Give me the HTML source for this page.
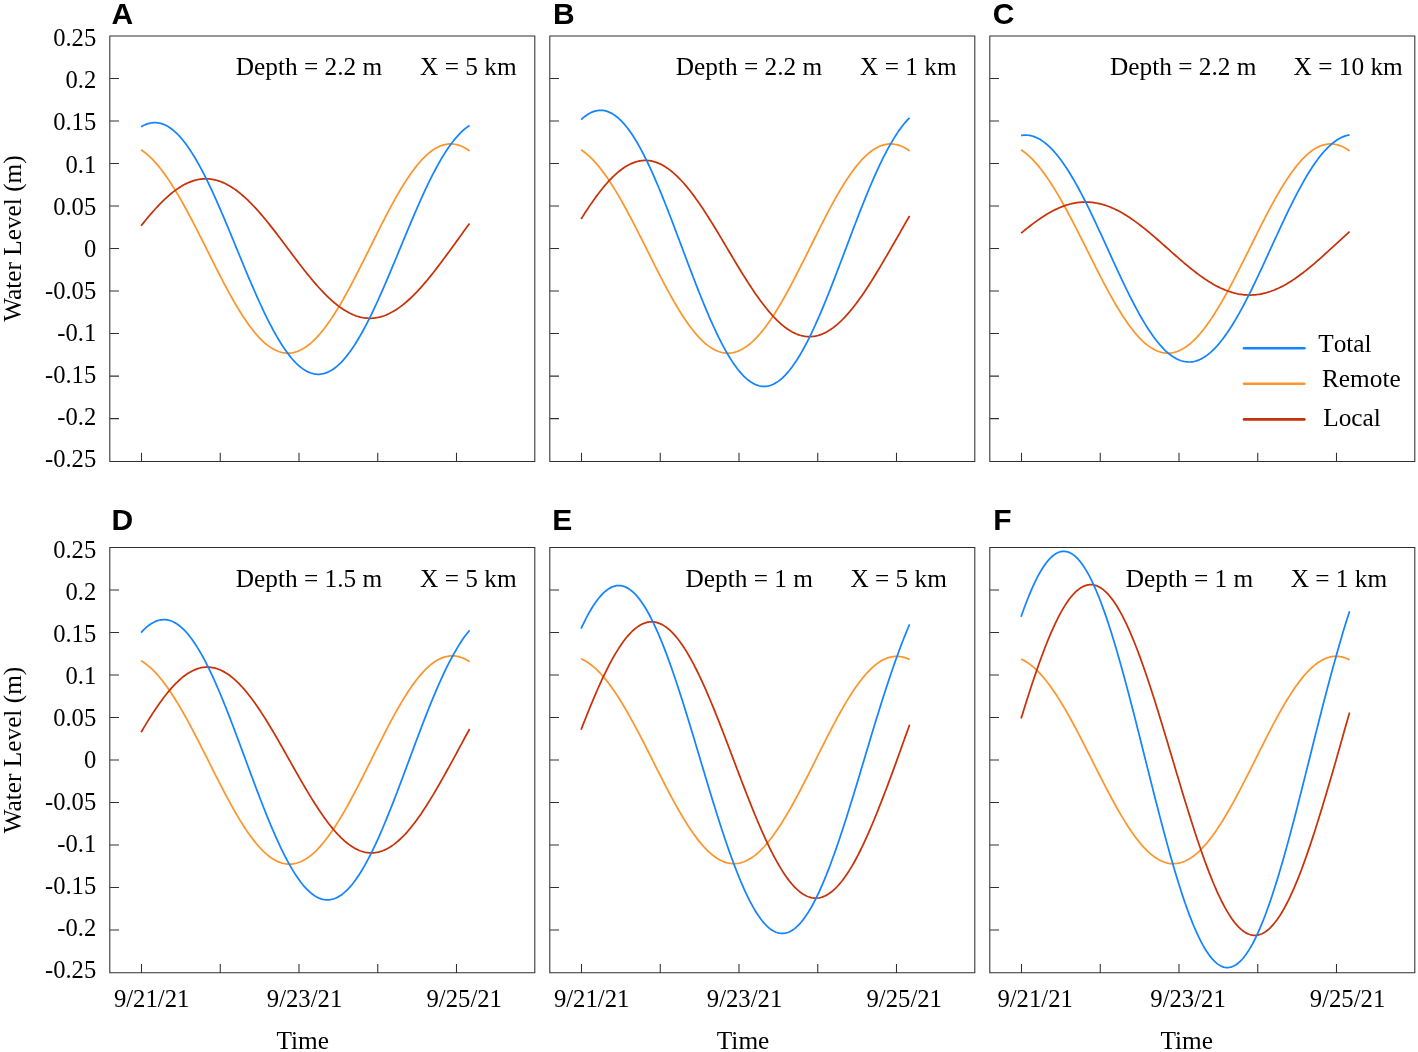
<!DOCTYPE html>
<html><head><meta charset="utf-8"><title>Water level</title>
<style>html,body{margin:0;padding:0;background:#fff;}svg{display:block;will-change:transform;}text{font-family:"Liberation Serif",serif;font-size:25.3px;fill:#000;}.pl{font-family:"Liberation Sans",sans-serif;font-weight:bold;font-size:30px;}</style></head><body>
<svg width="1418" height="1052" viewBox="0 0 1418 1052">
<rect x="0" y="0" width="1418" height="1052" fill="#fff"/>
<g><polyline points="141.1,149.82 142.47,150.74 143.84,151.73 145.21,152.77 146.57,153.89 147.94,155.06 149.31,156.3 150.68,157.59 152.05,158.95 153.42,160.37 154.79,161.85 156.16,163.38 157.53,164.97 158.89,166.62 160.26,168.32 161.63,170.08 163,171.89 164.37,173.75 165.74,175.66 167.11,177.62 168.47,179.63 169.84,181.68 171.21,183.78 172.58,185.93 173.95,188.11 175.32,190.34 176.69,192.61 178.06,194.92 179.43,197.26 180.79,199.64 182.16,202.05 183.53,204.5 184.9,206.98 186.27,209.48 187.64,212.02 189.01,214.58 190.38,217.16 191.74,219.77 193.11,222.4 194.48,225.04 195.85,227.71 197.22,230.39 198.59,233.08 199.96,235.79 201.32,238.51 202.69,241.23 204.06,243.96 205.43,246.7 206.8,249.44 208.17,252.18 209.54,254.92 210.91,257.66 212.27,260.39 213.64,263.12 215.01,265.83 216.38,268.54 217.75,271.23 219.12,273.91 220.49,276.57 221.86,279.22 223.22,281.84 224.59,284.44 225.96,287.02 227.33,289.57 228.7,292.09 230.07,294.59 231.44,297.05 232.81,299.48 234.18,301.87 235.54,304.23 236.91,306.55 238.28,308.83 239.65,311.07 241.02,313.26 242.39,315.41 243.76,317.51 245.12,319.57 246.49,321.58 247.86,323.53 249.23,325.43 250.6,327.28 251.97,329.08 253.34,330.81 254.71,332.49 256.07,334.11 257.44,335.68 258.81,337.18 260.18,338.61 261.55,339.99 262.92,341.3 264.29,342.55 265.66,343.73 267.02,344.84 268.39,345.89 269.76,346.86 271.13,347.77 272.5,348.61 273.87,349.38 275.24,350.08 276.61,350.71 277.98,351.26 279.34,351.75 280.71,352.16 282.08,352.5 283.45,352.77 284.82,352.97 286.19,353.09 287.56,353.14 288.93,353.12 290.29,353.02 291.66,352.85 293.03,352.61 294.4,352.3 295.77,351.92 297.14,351.46 298.51,350.93 299.88,350.34 301.24,349.67 302.61,348.93 303.98,348.12 305.35,347.25 306.72,346.3 308.09,345.29 309.46,344.21 310.82,343.07 312.19,341.86 313.56,340.59 314.93,339.25 316.3,337.85 317.67,336.39 319.04,334.86 320.41,333.28 321.78,331.64 323.14,329.94 324.51,328.19 325.88,326.38 327.25,324.51 328.62,322.6 329.99,320.63 331.36,318.62 332.73,316.55 334.09,314.44 335.46,312.28 336.83,310.08 338.2,307.84 339.57,305.55 340.94,303.22 342.31,300.86 343.68,298.46 345.04,296.03 346.41,293.56 347.78,291.06 349.15,288.54 350.52,285.98 351.89,283.4 353.26,280.79 354.62,278.16 355.99,275.51 357.36,272.84 358.73,270.16 360.1,267.46 361.47,264.74 362.84,262.02 364.21,259.28 365.57,256.54 366.94,253.79 368.31,251.03 369.68,248.28 371.05,245.52 372.42,242.76 373.79,240.01 375.16,237.26 376.53,234.52 377.89,231.78 379.26,229.06 380.63,226.35 382,223.66 383.37,220.98 384.74,218.32 386.11,215.67 387.48,213.06 388.84,210.46 390.21,207.89 391.58,205.35 392.95,202.84 394.32,200.36 395.69,197.92 397.06,195.51 398.43,193.13 399.79,190.8 401.16,188.5 402.53,186.25 403.9,184.04 405.27,181.88 406.64,179.76 408.01,177.69 409.38,175.67 410.74,173.7 412.11,171.78 413.48,169.92 414.85,168.12 416.22,166.37 417.59,164.68 418.96,163.04 420.33,161.47 421.69,159.96 423.06,158.51 424.43,157.13 425.8,155.81 427.17,154.56 428.54,153.37 429.91,152.25 431.28,151.2 432.64,150.22 434.01,149.3 435.38,148.46 436.75,147.69 438.12,146.99 439.49,146.36 440.86,145.8 442.23,145.31 443.59,144.9 444.96,144.56 446.33,144.3 447.7,144.11 449.07,143.99 450.44,143.94 451.81,143.97 453.18,144.07 454.54,144.25 455.91,144.49 457.28,144.81 458.65,145.21 460.02,145.67 461.39,146.21 462.76,146.82 464.12,147.5 465.49,148.25 466.86,149.08 468.23,149.97 469.6,150.93" fill="none" stroke="#FC962C" stroke-width="1.75" stroke-linecap="butt" stroke-linejoin="round"/><polyline points="141.1,225.8 142.47,224.08 143.84,222.38 145.21,220.69 146.57,219.03 147.94,217.38 149.31,215.76 150.68,214.16 152.05,212.58 153.42,211.03 154.79,209.5 156.16,208 157.53,206.53 158.89,205.08 160.26,203.67 161.63,202.29 163,200.94 164.37,199.62 165.74,198.33 167.11,197.08 168.47,195.87 169.84,194.69 171.21,193.54 172.58,192.44 173.95,191.37 175.32,190.35 176.69,189.36 178.06,188.41 179.43,187.51 180.79,186.65 182.16,185.83 183.53,185.05 184.9,184.32 186.27,183.63 187.64,182.98 189.01,182.38 190.38,181.83 191.74,181.32 193.11,180.85 194.48,180.44 195.85,180.07 197.22,179.75 198.59,179.47 199.96,179.24 201.32,179.06 202.69,178.93 204.06,178.85 205.43,178.81 206.8,178.82 208.17,178.88 209.54,178.99 210.91,179.14 212.27,179.34 213.64,179.59 215.01,179.89 216.38,180.23 217.75,180.62 219.12,181.06 220.49,181.55 221.86,182.08 223.22,182.65 224.59,183.27 225.96,183.94 227.33,184.65 228.7,185.4 230.07,186.2 231.44,187.04 232.81,187.92 234.18,188.85 235.54,189.81 236.91,190.82 238.28,191.86 239.65,192.94 241.02,194.07 242.39,195.23 243.76,196.42 245.12,197.65 246.49,198.92 247.86,200.22 249.23,201.55 250.6,202.92 251.97,204.32 253.34,205.75 254.71,207.2 256.07,208.69 257.44,210.2 258.81,211.74 260.18,213.31 261.55,214.89 262.92,216.51 264.29,218.14 265.66,219.79 267.02,221.47 268.39,223.16 269.76,224.87 271.13,226.6 272.5,228.34 273.87,230.1 275.24,231.87 276.61,233.65 277.98,235.44 279.34,237.23 280.71,239.04 282.08,240.85 283.45,242.67 284.82,244.5 286.19,246.32 287.56,248.15 288.93,249.98 290.29,251.8 291.66,253.63 293.03,255.45 294.4,257.26 295.77,259.07 297.14,260.87 298.51,262.67 299.88,264.45 301.24,266.23 302.61,267.99 303.98,269.73 305.35,271.47 306.72,273.19 308.09,274.89 309.46,276.57 310.82,278.23 312.19,279.87 313.56,281.5 314.93,283.1 316.3,284.67 317.67,286.22 319.04,287.75 320.41,289.24 321.78,290.71 323.14,292.15 324.51,293.56 325.88,294.94 327.25,296.29 328.62,297.61 329.99,298.89 331.36,300.13 332.73,301.35 334.09,302.52 335.46,303.66 336.83,304.76 338.2,305.82 339.57,306.84 340.94,307.83 342.31,308.77 343.68,309.67 345.04,310.53 346.41,311.34 347.78,312.11 349.15,312.84 350.52,313.53 351.89,314.17 353.26,314.76 354.62,315.31 355.99,315.82 357.36,316.27 358.73,316.68 360.1,317.05 361.47,317.37 362.84,317.64 364.21,317.86 365.57,318.03 366.94,318.16 368.31,318.24 369.68,318.27 371.05,318.26 372.42,318.19 373.79,318.08 375.16,317.92 376.53,317.71 377.89,317.46 379.26,317.16 380.63,316.81 382,316.41 383.37,315.97 384.74,315.48 386.11,314.94 387.48,314.36 388.84,313.74 390.21,313.07 391.58,312.35 392.95,311.59 394.32,310.79 395.69,309.95 397.06,309.06 398.43,308.13 399.79,307.16 401.16,306.15 402.53,305.1 403.9,304.01 405.27,302.88 406.64,301.72 408.01,300.51 409.38,299.27 410.74,297.99 412.11,296.68 413.48,295.33 414.85,293.95 416.22,292.54 417.59,291.09 418.96,289.62 420.33,288.12 421.69,286.58 423.06,285.02 424.43,283.43 425.8,281.82 427.17,280.19 428.54,278.53 429.91,276.84 431.28,275.14 432.64,273.42 434.01,271.68 435.38,269.92 436.75,268.14 438.12,266.35 439.49,264.55 440.86,262.74 442.23,260.91 443.59,259.07 444.96,257.23 446.33,255.38 447.7,253.52 449.07,251.66 450.44,249.8 451.81,247.93 453.18,246.06 454.54,244.17 455.91,242.27 457.28,240.37 458.65,238.46 460.02,236.55 461.39,234.64 462.76,232.73 464.12,230.84 465.49,228.95 466.86,227.09 468.23,225.23 469.6,223.4" fill="none" stroke="#C8320A" stroke-width="1.75" stroke-linecap="butt" stroke-linejoin="round"/><polyline points="141.1,126.81 142.47,126.02 143.84,125.3 145.21,124.68 146.57,124.13 147.94,123.67 149.31,123.29 150.68,122.99 152.05,122.78 153.42,122.65 154.79,122.61 156.16,122.65 157.53,122.78 158.89,122.99 160.26,123.29 161.63,123.67 163,124.13 164.37,124.69 165.74,125.32 167.11,126.04 168.47,126.84 169.84,127.73 171.21,128.69 172.58,129.74 173.95,130.87 175.32,132.08 176.69,133.38 178.06,134.75 179.43,136.2 180.79,137.72 182.16,139.32 183.53,141 184.9,142.76 186.27,144.58 187.64,146.48 189.01,148.45 190.38,150.49 191.74,152.6 193.11,154.77 194.48,157.01 195.85,159.32 197.22,161.69 198.59,164.11 199.96,166.6 201.32,169.15 202.69,171.75 204.06,174.41 205.43,177.12 206.8,179.88 208.17,182.68 209.54,185.54 210.91,188.44 212.27,191.38 213.64,194.37 215.01,197.39 216.38,200.45 217.75,203.54 219.12,206.66 220.49,209.81 221.86,213 223.22,216.2 224.59,219.43 225.96,222.68 227.33,225.95 228.7,229.23 230.07,232.53 231.44,235.84 232.81,239.16 234.18,242.48 235.54,245.81 236.91,249.14 238.28,252.47 239.65,255.79 241.02,259.12 242.39,262.43 243.76,265.73 245.12,269.02 246.49,272.3 247.86,275.56 249.23,278.8 250.6,282.02 251.97,285.21 253.34,288.38 254.71,291.52 256.07,294.63 257.44,297.7 258.81,300.75 260.18,303.75 261.55,306.71 262.92,309.64 264.29,312.52 265.66,315.35 267.02,318.14 268.39,320.88 269.76,323.57 271.13,326.2 272.5,328.78 273.87,331.31 275.24,333.77 276.61,336.18 277.98,338.52 279.34,340.8 280.71,343.02 282.08,345.17 283.45,347.26 284.82,349.27 286.19,351.21 287.56,353.09 288.93,354.89 290.29,356.61 291.66,358.27 293.03,359.84 294.4,361.34 295.77,362.76 297.14,364.1 298.51,365.37 299.88,366.55 301.24,367.65 302.61,368.66 303.98,369.6 305.35,370.45 306.72,371.22 308.09,371.9 309.46,372.5 310.82,373.01 312.19,373.43 313.56,373.77 314.93,374.03 316.3,374.19 317.67,374.27 319.04,374.27 320.41,374.17 321.78,373.99 323.14,373.73 324.51,373.38 325.88,372.94 327.25,372.41 328.62,371.8 329.99,371.11 331.36,370.33 332.73,369.47 334.09,368.52 335.46,367.49 336.83,366.38 338.2,365.19 339.57,363.92 340.94,362.56 342.31,361.13 343.68,359.62 345.04,358.04 346.41,356.38 347.78,354.64 349.15,352.83 350.52,350.95 351.89,349 353.26,346.98 354.62,344.89 355.99,342.74 357.36,340.52 358.73,338.23 360.1,335.88 361.47,333.48 362.84,331.01 364.21,328.49 365.57,325.91 366.94,323.28 368.31,320.59 369.68,317.86 371.05,315.08 372.42,312.25 373.79,309.38 375.16,306.46 376.53,303.5 377.89,300.5 379.26,297.47 380.63,294.4 382,291.3 383.37,288.17 384.74,285.02 386.11,281.83 387.48,278.63 388.84,275.4 390.21,272.15 391.58,268.89 392.95,265.62 394.32,262.33 395.69,259.03 397.06,255.73 398.43,252.42 399.79,249.11 401.16,245.8 402.53,242.49 403.9,239.19 405.27,235.89 406.64,232.6 408.01,229.32 409.38,226.06 410.74,222.81 412.11,219.58 413.48,216.36 414.85,213.17 416.22,210.01 417.59,206.87 418.96,203.76 420.33,200.68 421.69,197.64 423.06,194.63 424.43,191.66 425.8,188.72 427.17,185.83 428.54,182.99 429.91,180.18 431.28,177.43 432.64,174.72 434.01,172.07 435.38,169.47 436.75,166.92 438.12,164.43 439.49,162 440.86,159.63 442.23,157.32 443.59,155.08 444.96,152.9 446.33,150.78 447.7,148.74 449.07,146.76 450.44,144.85 451.81,143.02 453.18,141.25 454.54,139.54 455.91,137.9 457.28,136.32 458.65,134.8 460.02,133.36 461.39,132 462.76,130.71 464.12,129.5 465.49,128.38 466.86,127.34 468.23,126.38 469.6,125.52" fill="none" stroke="#1485FF" stroke-width="1.75" stroke-linecap="butt" stroke-linejoin="round"/><path d="M109.3 35.94H535.3M109.3 461.5H535.3M109.8 35.94V461.5M534.8 35.94V461.5M109.8 78.46h9.2M109.8 120.98h9.2M109.8 163.5h9.2M109.8 206.02h9.2M109.8 248.54h9.2M109.8 291.06h9.2M109.8 333.58h9.2M109.8 376.1h9.2M109.8 418.62h9.2M141.5 461.5v-8.8M220.25 461.5v-8.8M299 461.5v-8.8M377.75 461.5v-8.8M456.5 461.5v-8.8" stroke="#303030" stroke-width="1.05" fill="none"/><text class="pl" x="111.5" y="24.3">A</text><text x="235.8" y="75.14">Depth = 2.2 m</text><text x="420.1" y="75.14">X = 5 km</text><text x="96.2" y="46.44" text-anchor="end" style="font-size:24.6px">0.25</text><text x="96.2" y="88.46" text-anchor="end" style="font-size:24.6px">0.2</text><text x="96.2" y="130.48" text-anchor="end" style="font-size:24.6px">0.15</text><text x="96.2" y="172.5" text-anchor="end" style="font-size:24.6px">0.1</text><text x="96.2" y="214.52" text-anchor="end" style="font-size:24.6px">0.05</text><text x="96.2" y="256.54" text-anchor="end" style="font-size:24.6px">0</text><text x="96.2" y="298.56" text-anchor="end" style="font-size:24.6px">-0.05</text><text x="96.2" y="340.58" text-anchor="end" style="font-size:24.6px">-0.1</text><text x="96.2" y="382.6" text-anchor="end" style="font-size:24.6px">-0.15</text><text x="96.2" y="424.62" text-anchor="end" style="font-size:24.6px">-0.2</text><text x="96.2" y="466.64" text-anchor="end" style="font-size:24.6px">-0.25</text><text transform="translate(20.5 238.54) rotate(-90)" text-anchor="middle">Water Level (m)</text></g>
<g><polyline points="581.1,149.82 582.47,150.74 583.84,151.73 585.21,152.77 586.57,153.89 587.94,155.06 589.31,156.3 590.68,157.59 592.05,158.95 593.42,160.37 594.79,161.85 596.16,163.38 597.52,164.97 598.89,166.62 600.26,168.32 601.63,170.08 603,171.89 604.37,173.75 605.74,175.66 607.11,177.62 608.47,179.63 609.84,181.68 611.21,183.78 612.58,185.93 613.95,188.11 615.32,190.34 616.69,192.61 618.06,194.92 619.42,197.26 620.79,199.64 622.16,202.05 623.53,204.5 624.9,206.98 626.27,209.48 627.64,212.02 629.01,214.58 630.38,217.16 631.74,219.77 633.11,222.4 634.48,225.04 635.85,227.71 637.22,230.39 638.59,233.08 639.96,235.79 641.32,238.51 642.69,241.23 644.06,243.96 645.43,246.7 646.8,249.44 648.17,252.18 649.54,254.92 650.91,257.66 652.27,260.39 653.64,263.12 655.01,265.83 656.38,268.54 657.75,271.23 659.12,273.91 660.49,276.57 661.86,279.22 663.22,281.84 664.59,284.44 665.96,287.02 667.33,289.57 668.7,292.09 670.07,294.59 671.44,297.05 672.81,299.48 674.17,301.87 675.54,304.23 676.91,306.55 678.28,308.83 679.65,311.07 681.02,313.26 682.39,315.41 683.76,317.51 685.12,319.57 686.49,321.58 687.86,323.53 689.23,325.43 690.6,327.28 691.97,329.08 693.34,330.81 694.71,332.49 696.07,334.11 697.44,335.68 698.81,337.18 700.18,338.61 701.55,339.99 702.92,341.3 704.29,342.55 705.66,343.73 707.02,344.84 708.39,345.89 709.76,346.86 711.13,347.77 712.5,348.61 713.87,349.38 715.24,350.08 716.61,350.71 717.97,351.26 719.34,351.75 720.71,352.16 722.08,352.5 723.45,352.77 724.82,352.97 726.19,353.09 727.56,353.14 728.92,353.12 730.29,353.02 731.66,352.85 733.03,352.61 734.4,352.3 735.77,351.92 737.14,351.46 738.51,350.93 739.88,350.34 741.24,349.67 742.61,348.93 743.98,348.12 745.35,347.25 746.72,346.3 748.09,345.29 749.46,344.21 750.82,343.07 752.19,341.86 753.56,340.59 754.93,339.25 756.3,337.85 757.67,336.39 759.04,334.86 760.41,333.28 761.77,331.64 763.14,329.94 764.51,328.19 765.88,326.38 767.25,324.51 768.62,322.6 769.99,320.63 771.36,318.62 772.72,316.55 774.09,314.44 775.46,312.28 776.83,310.08 778.2,307.84 779.57,305.55 780.94,303.22 782.31,300.86 783.67,298.46 785.04,296.03 786.41,293.56 787.78,291.06 789.15,288.54 790.52,285.98 791.89,283.4 793.26,280.79 794.62,278.16 795.99,275.51 797.36,272.84 798.73,270.16 800.1,267.46 801.47,264.74 802.84,262.02 804.21,259.28 805.57,256.54 806.94,253.79 808.31,251.03 809.68,248.28 811.05,245.52 812.42,242.76 813.79,240.01 815.16,237.26 816.52,234.52 817.89,231.78 819.26,229.06 820.63,226.35 822,223.66 823.37,220.98 824.74,218.32 826.11,215.67 827.47,213.06 828.84,210.46 830.21,207.89 831.58,205.35 832.95,202.84 834.32,200.36 835.69,197.92 837.06,195.51 838.42,193.13 839.79,190.8 841.16,188.5 842.53,186.25 843.9,184.04 845.27,181.88 846.64,179.76 848.01,177.69 849.38,175.67 850.74,173.7 852.11,171.78 853.48,169.92 854.85,168.12 856.22,166.37 857.59,164.68 858.96,163.04 860.33,161.47 861.69,159.96 863.06,158.51 864.43,157.13 865.8,155.81 867.17,154.56 868.54,153.37 869.91,152.25 871.27,151.2 872.64,150.22 874.01,149.3 875.38,148.46 876.75,147.69 878.12,146.99 879.49,146.36 880.86,145.8 882.22,145.31 883.59,144.9 884.96,144.56 886.33,144.3 887.7,144.11 889.07,143.99 890.44,143.94 891.81,143.97 893.17,144.07 894.54,144.25 895.91,144.49 897.28,144.81 898.65,145.21 900.02,145.67 901.39,146.21 902.76,146.82 904.12,147.5 905.49,148.25 906.86,149.08 908.23,149.97 909.6,150.93" fill="none" stroke="#FC962C" stroke-width="1.75" stroke-linecap="butt" stroke-linejoin="round"/><polyline points="581.1,219.02 582.47,216.85 583.84,214.71 585.21,212.59 586.57,210.49 587.94,208.42 589.31,206.38 590.68,204.37 592.05,202.39 593.42,200.44 594.79,198.52 596.16,196.64 597.52,194.79 598.89,192.98 600.26,191.21 601.63,189.47 603,187.78 604.37,186.13 605.74,184.52 607.11,182.96 608.47,181.44 609.84,179.97 611.21,178.54 612.58,177.16 613.95,175.84 615.32,174.56 616.69,173.33 618.06,172.15 619.42,171.03 620.79,169.96 622.16,168.94 623.53,167.98 624.9,167.07 626.27,166.22 627.64,165.43 629.01,164.69 630.38,164.01 631.74,163.39 633.11,162.83 634.48,162.32 635.85,161.88 637.22,161.49 638.59,161.17 639.96,160.9 641.32,160.69 642.69,160.55 644.06,160.46 645.43,160.44 646.8,160.47 648.17,160.57 649.54,160.73 650.91,160.95 652.27,161.22 653.64,161.56 655.01,161.96 656.38,162.41 657.75,162.93 659.12,163.5 660.49,164.14 661.86,164.83 663.22,165.58 664.59,166.38 665.96,167.24 667.33,168.16 668.7,169.13 670.07,170.16 671.44,171.24 672.81,172.37 674.17,173.56 675.54,174.8 676.91,176.09 678.28,177.42 679.65,178.81 681.02,180.25 682.39,181.73 683.76,183.26 685.12,184.83 686.49,186.44 687.86,188.1 689.23,189.8 690.6,191.54 691.97,193.32 693.34,195.14 694.71,197 696.07,198.89 697.44,200.81 698.81,202.77 700.18,204.75 701.55,206.77 702.92,208.82 704.29,210.89 705.66,212.99 707.02,215.12 708.39,217.26 709.76,219.43 711.13,221.62 712.5,223.83 713.87,226.05 715.24,228.29 716.61,230.55 717.97,232.81 719.34,235.09 720.71,237.37 722.08,239.67 723.45,241.97 724.82,244.27 726.19,246.58 727.56,248.89 728.92,251.2 730.29,253.5 731.66,255.81 733.03,258.1 734.4,260.39 735.77,262.68 737.14,264.95 738.51,267.21 739.88,269.46 741.24,271.7 742.61,273.92 743.98,276.12 745.35,278.3 746.72,280.46 748.09,282.61 749.46,284.72 750.82,286.81 752.19,288.88 753.56,290.92 754.93,292.93 756.3,294.91 757.67,296.85 759.04,298.77 760.41,300.65 761.77,302.49 763.14,304.3 764.51,306.06 765.88,307.79 767.25,309.48 768.62,311.13 769.99,312.73 771.36,314.29 772.72,315.8 774.09,317.27 775.46,318.69 776.83,320.06 778.2,321.39 779.57,322.66 780.94,323.88 782.31,325.05 783.67,326.17 785.04,327.24 786.41,328.25 787.78,329.2 789.15,330.1 790.52,330.95 791.89,331.74 793.26,332.47 794.62,333.14 795.99,333.76 797.36,334.31 798.73,334.81 800.1,335.25 801.47,335.63 802.84,335.95 804.21,336.21 805.57,336.41 806.94,336.54 808.31,336.62 809.68,336.64 811.05,336.6 812.42,336.49 813.79,336.33 815.16,336.11 816.52,335.82 817.89,335.48 819.26,335.08 820.63,334.61 822,334.09 823.37,333.51 824.74,332.87 826.11,332.17 827.47,331.42 828.84,330.61 830.21,329.74 831.58,328.82 832.95,327.84 834.32,326.81 835.69,325.72 837.06,324.58 838.42,323.39 839.79,322.14 841.16,320.85 842.53,319.5 843.9,318.11 845.27,316.67 846.64,315.17 848.01,313.64 849.38,312.05 850.74,310.42 852.11,308.75 853.48,307.03 854.85,305.27 856.22,303.47 857.59,301.63 858.96,299.76 860.33,297.84 861.69,295.89 863.06,293.91 864.43,291.89 865.8,289.85 867.17,287.77 868.54,285.66 869.91,283.53 871.27,281.37 872.64,279.18 874.01,276.97 875.38,274.75 876.75,272.5 878.12,270.23 879.49,267.95 880.86,265.65 882.22,263.34 883.59,261.02 884.96,258.68 886.33,256.34 887.7,253.99 889.07,251.64 890.44,249.28 891.81,246.93 893.17,244.56 894.54,242.18 895.91,239.78 897.28,237.37 898.65,234.97 900.02,232.56 901.39,230.15 902.76,227.75 904.12,225.36 905.49,222.99 906.86,220.63 908.23,218.3 909.6,216" fill="none" stroke="#C8320A" stroke-width="1.75" stroke-linecap="butt" stroke-linejoin="round"/><polyline points="581.1,119.68 582.47,118.43 583.84,117.26 585.21,116.18 586.57,115.19 587.94,114.29 589.31,113.48 590.68,112.76 592.05,112.14 593.42,111.6 594.79,111.16 596.16,110.8 597.52,110.55 598.89,110.38 600.26,110.31 601.63,110.33 603,110.45 604.37,110.65 605.74,110.96 607.11,111.35 608.47,111.84 609.84,112.43 611.21,113.1 612.58,113.87 613.95,114.73 615.32,115.69 616.69,116.73 618.06,117.87 619.42,119.09 620.79,120.41 622.16,121.81 623.53,123.3 624.9,124.88 626.27,126.54 627.64,128.29 629.01,130.12 630.38,132.03 631.74,134.02 633.11,136.1 634.48,138.25 635.85,140.48 637.22,142.78 638.59,145.16 639.96,147.61 641.32,150.14 642.69,152.73 644.06,155.39 645.43,158.11 646.8,160.9 648.17,163.75 649.54,166.66 650.91,169.63 652.27,172.65 653.64,175.73 655.01,178.86 656.38,182.04 657.75,185.26 659.12,188.53 660.49,191.84 661.86,195.19 663.22,198.58 664.59,202 665.96,205.45 667.33,208.94 668.7,212.45 670.07,215.99 671.44,219.55 672.81,223.13 674.17,226.73 675.54,230.34 676.91,233.97 678.28,237.6 679.65,241.25 681.02,244.89 682.39,248.54 683.76,252.19 685.12,255.84 686.49,259.48 687.86,263.11 689.23,266.73 690.6,270.34 691.97,273.93 693.34,277.5 694.71,281.05 696.07,284.58 697.44,288.08 698.81,291.56 700.18,295 701.55,298.41 702.92,301.79 704.29,305.13 705.66,308.42 707.02,311.68 708.39,314.89 709.76,318.05 711.13,321.16 712.5,324.23 713.87,327.24 715.24,330.19 716.61,333.09 717.97,335.92 719.34,338.7 720.71,341.41 722.08,344.06 723.45,346.64 724.82,349.15 726.19,351.6 727.56,353.97 728.92,356.27 730.29,358.49 731.66,360.64 733.03,362.71 734.4,364.7 735.77,366.61 737.14,368.44 738.51,370.18 739.88,371.84 741.24,373.42 742.61,374.91 743.98,376.31 745.35,377.63 746.72,378.85 748.09,379.99 749.46,381.03 750.82,381.99 752.19,382.85 753.56,383.62 754.93,384.3 756.3,384.88 757.67,385.37 759.04,385.76 760.41,386.06 761.77,386.27 763.14,386.38 764.51,386.39 765.88,386.31 767.25,386.14 768.62,385.87 769.99,385.51 771.36,385.05 772.72,384.5 774.09,383.85 775.46,383.11 776.83,382.28 778.2,381.36 779.57,380.34 780.94,379.23 782.31,378.04 783.67,376.75 785.04,375.38 786.41,373.92 787.78,372.37 789.15,370.73 790.52,369.01 791.89,367.21 793.26,365.33 794.62,363.37 795.99,361.32 797.36,359.2 798.73,357 800.1,354.73 801.47,352.39 802.84,349.97 804.21,347.48 805.57,344.92 806.94,342.3 808.31,339.61 809.68,336.86 811.05,334.05 812.42,331.18 813.79,328.25 815.16,325.26 816.52,322.22 817.89,319.13 819.26,315.99 820.63,312.8 822,309.57 823.37,306.29 824.74,302.97 826.11,299.62 827.47,296.23 828.84,292.81 830.21,289.36 831.58,285.88 832.95,282.37 834.32,278.84 835.69,275.29 837.06,271.72 838.42,268.14 839.79,264.54 841.16,260.94 842.53,257.32 843.9,253.7 845.27,250.07 846.64,246.45 848.01,242.82 849.38,239.2 850.74,235.58 852.11,231.98 853.48,228.38 854.85,224.8 856.22,221.23 857.59,217.68 858.96,214.16 860.33,210.65 861.69,207.18 863.06,203.73 864.43,200.31 865.8,196.93 867.17,193.58 868.54,190.26 869.91,186.99 871.27,183.77 872.64,180.58 874.01,177.44 875.38,174.36 876.75,171.32 878.12,168.34 879.49,165.41 880.86,162.54 882.22,159.73 883.59,156.98 884.96,154.29 886.33,151.67 887.7,149.12 889.07,146.63 890.44,144.22 891.81,141.87 893.17,139.59 894.54,137.37 895.91,135.21 897.28,133.12 898.65,131.09 900.02,129.14 901.39,127.26 902.76,125.46 904.12,123.74 905.49,122.11 906.86,120.57 908.23,119.12 909.6,117.77" fill="none" stroke="#1485FF" stroke-width="1.75" stroke-linecap="butt" stroke-linejoin="round"/><path d="M549.3 35.94H975.3M549.3 461.5H975.3M549.8 35.94V461.5M974.8 35.94V461.5M549.8 78.46h9.2M549.8 120.98h9.2M549.8 163.5h9.2M549.8 206.02h9.2M549.8 248.54h9.2M549.8 291.06h9.2M549.8 333.58h9.2M549.8 376.1h9.2M549.8 418.62h9.2M581.5 461.5v-8.8M660.25 461.5v-8.8M739 461.5v-8.8M817.75 461.5v-8.8M896.5 461.5v-8.8" stroke="#303030" stroke-width="1.05" fill="none"/><text class="pl" x="553" y="24.3">B</text><text x="675.8" y="75.14">Depth = 2.2 m</text><text x="860.1" y="75.14">X = 1 km</text></g>
<g><polyline points="1021.1,149.82 1022.47,150.74 1023.84,151.73 1025.21,152.77 1026.58,153.89 1027.94,155.06 1029.31,156.3 1030.68,157.59 1032.05,158.95 1033.42,160.37 1034.79,161.85 1036.16,163.38 1037.52,164.97 1038.89,166.62 1040.26,168.32 1041.63,170.08 1043,171.89 1044.37,173.75 1045.74,175.66 1047.11,177.62 1048.47,179.63 1049.84,181.68 1051.21,183.78 1052.58,185.93 1053.95,188.11 1055.32,190.34 1056.69,192.61 1058.06,194.92 1059.42,197.26 1060.79,199.64 1062.16,202.05 1063.53,204.5 1064.9,206.98 1066.27,209.48 1067.64,212.02 1069.01,214.58 1070.38,217.16 1071.74,219.77 1073.11,222.4 1074.48,225.04 1075.85,227.71 1077.22,230.39 1078.59,233.08 1079.96,235.79 1081.33,238.51 1082.69,241.23 1084.06,243.96 1085.43,246.7 1086.8,249.44 1088.17,252.18 1089.54,254.92 1090.91,257.66 1092.27,260.39 1093.64,263.12 1095.01,265.83 1096.38,268.54 1097.75,271.23 1099.12,273.91 1100.49,276.57 1101.86,279.22 1103.22,281.84 1104.59,284.44 1105.96,287.02 1107.33,289.57 1108.7,292.09 1110.07,294.59 1111.44,297.05 1112.81,299.48 1114.17,301.87 1115.54,304.23 1116.91,306.55 1118.28,308.83 1119.65,311.07 1121.02,313.26 1122.39,315.41 1123.76,317.51 1125.12,319.57 1126.49,321.58 1127.86,323.53 1129.23,325.43 1130.6,327.28 1131.97,329.08 1133.34,330.81 1134.71,332.49 1136.08,334.11 1137.44,335.68 1138.81,337.18 1140.18,338.61 1141.55,339.99 1142.92,341.3 1144.29,342.55 1145.66,343.73 1147.02,344.84 1148.39,345.89 1149.76,346.86 1151.13,347.77 1152.5,348.61 1153.87,349.38 1155.24,350.08 1156.61,350.71 1157.97,351.26 1159.34,351.75 1160.71,352.16 1162.08,352.5 1163.45,352.77 1164.82,352.97 1166.19,353.09 1167.56,353.14 1168.92,353.12 1170.29,353.02 1171.66,352.85 1173.03,352.61 1174.4,352.3 1175.77,351.92 1177.14,351.46 1178.51,350.93 1179.88,350.34 1181.24,349.67 1182.61,348.93 1183.98,348.12 1185.35,347.25 1186.72,346.3 1188.09,345.29 1189.46,344.21 1190.83,343.07 1192.19,341.86 1193.56,340.59 1194.93,339.25 1196.3,337.85 1197.67,336.39 1199.04,334.86 1200.41,333.28 1201.78,331.64 1203.14,329.94 1204.51,328.19 1205.88,326.38 1207.25,324.51 1208.62,322.6 1209.99,320.63 1211.36,318.62 1212.72,316.55 1214.09,314.44 1215.46,312.28 1216.83,310.08 1218.2,307.84 1219.57,305.55 1220.94,303.22 1222.31,300.86 1223.67,298.46 1225.04,296.03 1226.41,293.56 1227.78,291.06 1229.15,288.54 1230.52,285.98 1231.89,283.4 1233.26,280.79 1234.62,278.16 1235.99,275.51 1237.36,272.84 1238.73,270.16 1240.1,267.46 1241.47,264.74 1242.84,262.02 1244.21,259.28 1245.58,256.54 1246.94,253.79 1248.31,251.03 1249.68,248.28 1251.05,245.52 1252.42,242.76 1253.79,240.01 1255.16,237.26 1256.53,234.52 1257.89,231.78 1259.26,229.06 1260.63,226.35 1262,223.66 1263.37,220.98 1264.74,218.32 1266.11,215.67 1267.47,213.06 1268.84,210.46 1270.21,207.89 1271.58,205.35 1272.95,202.84 1274.32,200.36 1275.69,197.92 1277.06,195.51 1278.42,193.13 1279.79,190.8 1281.16,188.5 1282.53,186.25 1283.9,184.04 1285.27,181.88 1286.64,179.76 1288.01,177.69 1289.38,175.67 1290.74,173.7 1292.11,171.78 1293.48,169.92 1294.85,168.12 1296.22,166.37 1297.59,164.68 1298.96,163.04 1300.33,161.47 1301.69,159.96 1303.06,158.51 1304.43,157.13 1305.8,155.81 1307.17,154.56 1308.54,153.37 1309.91,152.25 1311.28,151.2 1312.64,150.22 1314.01,149.3 1315.38,148.46 1316.75,147.69 1318.12,146.99 1319.49,146.36 1320.86,145.8 1322.22,145.31 1323.59,144.9 1324.96,144.56 1326.33,144.3 1327.7,144.11 1329.07,143.99 1330.44,143.94 1331.81,143.97 1333.17,144.07 1334.54,144.25 1335.91,144.49 1337.28,144.81 1338.65,145.21 1340.02,145.67 1341.39,146.21 1342.76,146.82 1344.12,147.5 1345.49,148.25 1346.86,149.08 1348.23,149.97 1349.6,150.93" fill="none" stroke="#FC962C" stroke-width="1.75" stroke-linecap="butt" stroke-linejoin="round"/><polyline points="1021.1,233.2 1022.47,232.06 1023.84,230.92 1025.21,229.8 1026.58,228.69 1027.94,227.6 1029.31,226.52 1030.68,225.45 1032.05,224.4 1033.42,223.37 1034.79,222.35 1036.16,221.35 1037.52,220.37 1038.89,219.41 1040.26,218.47 1041.63,217.55 1043,216.65 1044.37,215.78 1045.74,214.92 1047.11,214.09 1048.47,213.29 1049.84,212.5 1051.21,211.74 1052.58,211.01 1053.95,210.3 1055.32,209.62 1056.69,208.97 1058.06,208.34 1059.42,207.74 1060.79,207.17 1062.16,206.63 1063.53,206.11 1064.9,205.63 1066.27,205.17 1067.64,204.75 1069.01,204.35 1070.38,203.99 1071.74,203.65 1073.11,203.35 1074.48,203.07 1075.85,202.83 1077.22,202.62 1078.59,202.44 1079.96,202.29 1081.33,202.18 1082.69,202.1 1084.06,202.04 1085.43,202.02 1086.8,202.04 1088.17,202.08 1089.54,202.16 1090.91,202.26 1092.27,202.4 1093.64,202.57 1095.01,202.78 1096.38,203.01 1097.75,203.28 1099.12,203.57 1100.49,203.9 1101.86,204.26 1103.22,204.65 1104.59,205.06 1105.96,205.51 1107.33,205.99 1108.7,206.5 1110.07,207.03 1111.44,207.6 1112.81,208.19 1114.17,208.81 1115.54,209.46 1116.91,210.13 1118.28,210.83 1119.65,211.56 1121.02,212.31 1122.39,213.09 1123.76,213.89 1125.12,214.72 1126.49,215.57 1127.86,216.44 1129.23,217.33 1130.6,218.24 1131.97,219.18 1133.34,220.13 1134.71,221.11 1136.08,222.1 1137.44,223.11 1138.81,224.14 1140.18,225.19 1141.55,226.25 1142.92,227.33 1144.29,228.42 1145.66,229.53 1147.02,230.65 1148.39,231.78 1149.76,232.92 1151.13,234.07 1152.5,235.24 1153.87,236.41 1155.24,237.59 1156.61,238.78 1157.97,239.97 1159.34,241.17 1160.71,242.38 1162.08,243.59 1163.45,244.8 1164.82,246.02 1166.19,247.24 1167.56,248.46 1168.92,249.68 1170.29,250.89 1171.66,252.11 1173.03,253.32 1174.4,254.53 1175.77,255.74 1177.14,256.94 1178.51,258.14 1179.88,259.33 1181.24,260.51 1182.61,261.68 1183.98,262.85 1185.35,264 1186.72,265.15 1188.09,266.28 1189.46,267.4 1190.83,268.51 1192.19,269.6 1193.56,270.68 1194.93,271.75 1196.3,272.79 1197.67,273.83 1199.04,274.84 1200.41,275.84 1201.78,276.81 1203.14,277.77 1204.51,278.71 1205.88,279.63 1207.25,280.52 1208.62,281.4 1209.99,282.25 1211.36,283.08 1212.72,283.88 1214.09,284.66 1215.46,285.42 1216.83,286.15 1218.2,286.85 1219.57,287.53 1220.94,288.18 1222.31,288.81 1223.67,289.4 1225.04,289.97 1226.41,290.51 1227.78,291.02 1229.15,291.5 1230.52,291.96 1231.89,292.38 1233.26,292.77 1234.62,293.13 1235.99,293.46 1237.36,293.77 1238.73,294.04 1240.1,294.27 1241.47,294.48 1242.84,294.66 1244.21,294.8 1245.58,294.91 1246.94,294.99 1248.31,295.04 1249.68,295.06 1251.05,295.04 1252.42,294.99 1253.79,294.91 1255.16,294.8 1256.53,294.66 1257.89,294.49 1259.26,294.28 1260.63,294.04 1262,293.77 1263.37,293.47 1264.74,293.14 1266.11,292.78 1267.47,292.39 1268.84,291.97 1270.21,291.52 1271.58,291.03 1272.95,290.52 1274.32,289.99 1275.69,289.42 1277.06,288.82 1278.42,288.2 1279.79,287.55 1281.16,286.87 1282.53,286.17 1283.9,285.44 1285.27,284.68 1286.64,283.9 1288.01,283.09 1289.38,282.26 1290.74,281.4 1292.11,280.52 1293.48,279.62 1294.85,278.7 1296.22,277.75 1297.59,276.79 1298.96,275.8 1300.33,274.79 1301.69,273.77 1303.06,272.72 1304.43,271.66 1305.8,270.59 1307.17,269.49 1308.54,268.38 1309.91,267.26 1311.28,266.12 1312.64,264.97 1314.01,263.81 1315.38,262.63 1316.75,261.45 1318.12,260.25 1319.49,259.05 1320.86,257.84 1322.22,256.62 1323.59,255.39 1324.96,254.16 1326.33,252.93 1327.7,251.69 1329.07,250.44 1330.44,249.2 1331.81,247.96 1333.17,246.71 1334.54,245.45 1335.91,244.18 1337.28,242.91 1338.65,241.64 1340.02,240.36 1341.39,239.09 1342.76,237.82 1344.12,236.56 1345.49,235.3 1346.86,234.06 1348.23,232.83 1349.6,231.61" fill="none" stroke="#C8320A" stroke-width="1.75" stroke-linecap="butt" stroke-linejoin="round"/><polyline points="1021.1,135.46 1022.47,135.26 1023.84,135.15 1025.21,135.1 1026.58,135.14 1027.94,135.25 1029.31,135.43 1030.68,135.69 1032.05,136.02 1033.42,136.44 1034.79,136.92 1036.16,137.48 1037.52,138.12 1038.89,138.83 1040.26,139.61 1041.63,140.47 1043,141.4 1044.37,142.4 1045.74,143.48 1047.11,144.62 1048.47,145.84 1049.84,147.13 1051.21,148.48 1052.58,149.91 1053.95,151.4 1055.32,152.96 1056.69,154.58 1058.06,156.27 1059.42,158.02 1060.79,159.84 1062.16,161.71 1063.53,163.65 1064.9,165.64 1066.27,167.7 1067.64,169.8 1069.01,171.97 1070.38,174.19 1071.74,176.46 1073.11,178.78 1074.48,181.15 1075.85,183.56 1077.22,186.03 1078.59,188.54 1079.96,191.09 1081.33,193.68 1082.69,196.31 1084.06,198.98 1085.43,201.68 1086.8,204.42 1088.17,207.19 1089.54,209.99 1090.91,212.82 1092.27,215.67 1093.64,218.55 1095.01,221.45 1096.38,224.37 1097.75,227.31 1099.12,230.26 1100.49,233.22 1101.86,236.2 1103.22,239.19 1104.59,242.18 1105.96,245.18 1107.33,248.18 1108.7,251.18 1110.07,254.19 1111.44,257.18 1112.81,260.17 1114.17,263.16 1115.54,266.13 1116.91,269.09 1118.28,272.04 1119.65,274.97 1121.02,277.88 1122.39,280.77 1123.76,283.64 1125.12,286.49 1126.49,289.3 1127.86,292.09 1129.23,294.85 1130.6,297.57 1131.97,300.26 1133.34,302.92 1134.71,305.53 1136.08,308.11 1137.44,310.64 1138.81,313.13 1140.18,315.58 1141.55,317.97 1142.92,320.32 1144.29,322.62 1145.66,324.86 1147.02,327.05 1148.39,329.19 1149.76,331.27 1151.13,333.29 1152.5,335.25 1153.87,337.15 1155.24,338.99 1156.61,340.76 1157.97,342.47 1159.34,344.12 1160.71,345.7 1162.08,347.21 1163.45,348.65 1164.82,350.02 1166.19,351.32 1167.56,352.55 1168.92,353.71 1170.29,354.79 1171.66,355.8 1173.03,356.74 1174.4,357.6 1175.77,358.38 1177.14,359.09 1178.51,359.73 1179.88,360.28 1181.24,360.76 1182.61,361.16 1183.98,361.49 1185.35,361.73 1186.72,361.9 1188.09,361.99 1189.46,362 1190.83,361.94 1192.19,361.79 1193.56,361.57 1194.93,361.27 1196.3,360.89 1197.67,360.43 1199.04,359.9 1200.41,359.29 1201.78,358.6 1203.14,357.84 1204.51,357 1205.88,356.09 1207.25,355.1 1208.62,354.04 1209.99,352.91 1211.36,351.7 1212.72,350.42 1214.09,349.08 1215.46,347.66 1216.83,346.18 1218.2,344.63 1219.57,343.01 1220.94,341.32 1222.31,339.58 1223.67,337.77 1225.04,335.89 1226.41,333.96 1227.78,331.97 1229.15,329.92 1230.52,327.82 1231.89,325.66 1233.26,323.44 1234.62,321.18 1235.99,318.86 1237.36,316.5 1238.73,314.08 1240.1,311.63 1241.47,309.12 1242.84,306.58 1244.21,304 1245.58,301.38 1246.94,298.72 1248.31,296.02 1249.68,293.3 1251.05,290.54 1252.42,287.75 1253.79,284.93 1255.16,282.09 1256.53,279.22 1257.89,276.33 1259.26,273.42 1260.63,270.49 1262,267.55 1263.37,264.6 1264.74,261.63 1266.11,258.65 1267.47,255.67 1268.84,252.68 1270.21,249.68 1271.58,246.69 1272.95,243.7 1274.32,240.71 1275.69,237.72 1277.06,234.75 1278.42,231.78 1279.79,228.83 1281.16,225.89 1282.53,222.96 1283.9,220.06 1285.27,217.17 1286.64,214.31 1288.01,211.47 1289.38,208.65 1290.74,205.86 1292.11,203.11 1293.48,200.38 1294.85,197.69 1296.22,195.03 1297.59,192.42 1298.96,189.84 1300.33,187.3 1301.69,184.8 1303.06,182.35 1304.43,179.95 1305.8,177.59 1307.17,175.28 1308.54,173.03 1309.91,170.83 1311.28,168.68 1312.64,166.59 1314.01,164.55 1315.38,162.57 1316.75,160.66 1318.12,158.8 1319.49,157.01 1320.86,155.28 1322.22,153.62 1323.59,152.02 1324.96,150.5 1326.33,149.03 1327.7,147.64 1329.07,146.32 1330.44,145.07 1331.81,143.9 1333.17,142.79 1334.54,141.74 1335.91,140.76 1337.28,139.85 1338.65,139.01 1340.02,138.24 1341.39,137.54 1342.76,136.91 1344.12,136.37 1345.49,135.9 1346.86,135.51 1348.23,135.2 1349.6,134.98" fill="none" stroke="#1485FF" stroke-width="1.75" stroke-linecap="butt" stroke-linejoin="round"/><path d="M989.3 35.94H1415.3M989.3 461.5H1415.3M989.8 35.94V461.5M1414.8 35.94V461.5M989.8 78.46h9.2M989.8 120.98h9.2M989.8 163.5h9.2M989.8 206.02h9.2M989.8 248.54h9.2M989.8 291.06h9.2M989.8 333.58h9.2M989.8 376.1h9.2M989.8 418.62h9.2M1021.5 461.5v-8.8M1100.25 461.5v-8.8M1179 461.5v-8.8M1257.75 461.5v-8.8M1336.5 461.5v-8.8" stroke="#303030" stroke-width="1.05" fill="none"/><text class="pl" x="992.7" y="24.3">C</text><text x="1110" y="75.14">Depth = 2.2 m</text><text x="1293.6" y="75.14">X = 10 km</text></g>
<g><polyline points="141.1,660.72 142.47,661.56 143.84,662.46 145.21,663.43 146.57,664.46 147.94,665.56 149.31,666.71 150.68,667.93 152.05,669.21 153.42,670.56 154.79,671.96 156.16,673.42 157.53,674.93 158.89,676.51 160.26,678.14 161.63,679.82 163,681.56 164.37,683.35 165.74,685.2 167.11,687.09 168.47,689.03 169.84,691.02 171.21,693.06 172.58,695.15 173.95,697.27 175.32,699.44 176.69,701.66 178.06,703.91 179.43,706.2 180.79,708.53 182.16,710.89 183.53,713.29 184.9,715.72 186.27,718.18 187.64,720.67 189.01,723.19 190.38,725.74 191.74,728.31 193.11,730.9 194.48,733.51 195.85,736.15 197.22,738.8 198.59,741.47 199.96,744.15 201.32,746.84 202.69,749.55 204.06,752.26 205.43,754.98 206.8,757.71 208.17,760.44 209.54,763.17 210.91,765.9 212.27,768.62 213.64,771.35 215.01,774.06 216.38,776.77 217.75,779.47 219.12,782.15 220.49,784.82 221.86,787.47 223.22,790.11 224.59,792.73 225.96,795.32 227.33,797.89 228.7,800.43 230.07,802.95 231.44,805.44 232.81,807.9 234.18,810.32 235.54,812.71 236.91,815.07 238.28,817.38 239.65,819.66 241.02,821.89 242.39,824.08 243.76,826.23 245.12,828.33 246.49,830.39 247.86,832.39 249.23,834.35 250.6,836.25 251.97,838.1 253.34,839.89 254.71,841.63 256.07,843.31 257.44,844.94 258.81,846.5 260.18,848 261.55,849.44 262.92,850.82 264.29,852.14 265.66,853.39 267.02,854.57 268.39,855.69 269.76,856.74 271.13,857.73 272.5,858.64 273.87,859.49 275.24,860.27 276.61,860.97 277.98,861.61 279.34,862.18 280.71,862.67 282.08,863.09 283.45,863.44 284.82,863.72 286.19,863.93 287.56,864.06 288.93,864.12 290.29,864.11 291.66,864.03 293.03,863.87 294.4,863.64 295.77,863.35 297.14,862.98 298.51,862.53 299.88,862.02 301.24,861.44 302.61,860.78 303.98,860.06 305.35,859.27 306.72,858.41 308.09,857.48 309.46,856.48 310.82,855.42 312.19,854.29 313.56,853.1 314.93,851.84 316.3,850.52 317.67,849.14 319.04,847.69 320.41,846.19 321.78,844.62 323.14,843 324.51,841.32 325.88,839.58 327.25,837.79 328.62,835.94 329.99,834.04 331.36,832.09 332.73,830.09 334.09,828.05 335.46,825.95 336.83,823.81 338.2,821.63 339.57,819.4 340.94,817.13 342.31,814.82 343.68,812.48 345.04,810.09 346.41,807.68 347.78,805.22 349.15,802.74 350.52,800.23 351.89,797.69 353.26,795.12 354.62,792.53 355.99,789.92 357.36,787.28 358.73,784.63 360.1,781.96 361.47,779.27 362.84,776.57 364.21,773.86 365.57,771.14 366.94,768.4 368.31,765.67 369.68,762.93 371.05,760.18 372.42,757.43 373.79,754.69 375.16,751.95 376.53,749.21 377.89,746.48 379.26,743.75 380.63,741.04 382,738.34 383.37,735.65 384.74,732.98 386.11,730.33 387.48,727.69 388.84,725.08 390.21,722.5 391.58,719.93 392.95,717.4 394.32,714.9 395.69,712.42 397.06,709.98 398.43,707.57 399.79,705.21 401.16,702.87 402.53,700.58 403.9,698.33 405.27,696.13 406.64,693.96 408.01,691.85 409.38,689.78 410.74,687.76 412.11,685.79 413.48,683.88 414.85,682.02 416.22,680.21 417.59,678.46 418.96,676.77 420.33,675.14 421.69,673.56 423.06,672.05 424.43,670.6 425.8,669.21 427.17,667.89 428.54,666.63 429.91,665.44 431.28,664.31 432.64,663.26 434.01,662.27 435.38,661.35 436.75,660.5 438.12,659.72 439.49,659.01 440.86,658.37 442.23,657.81 443.59,657.31 444.96,656.89 446.33,656.54 447.7,656.27 449.07,656.06 450.44,655.93 451.81,655.88 453.18,655.89 454.54,655.98 455.91,656.15 457.28,656.38 458.65,656.69 460.02,657.07 461.39,657.52 462.76,658.05 464.12,658.64 465.49,659.31 466.86,660.05 468.23,660.85 469.6,661.73" fill="none" stroke="#FC962C" stroke-width="1.75" stroke-linecap="butt" stroke-linejoin="round"/><polyline points="141.1,732.24 142.47,729.93 143.84,727.63 145.21,725.36 146.57,723.12 147.94,720.89 149.31,718.7 150.68,716.53 152.05,714.4 153.42,712.29 154.79,710.22 156.16,708.18 157.53,706.18 158.89,704.21 160.26,702.29 161.63,700.4 163,698.55 164.37,696.75 165.74,694.99 167.11,693.27 168.47,691.6 169.84,689.97 171.21,688.4 172.58,686.87 173.95,685.4 175.32,683.97 176.69,682.6 178.06,681.28 179.43,680.01 180.79,678.8 182.16,677.65 183.53,676.55 184.9,675.51 186.27,674.52 187.64,673.6 189.01,672.73 190.38,671.93 191.74,671.18 193.11,670.5 194.48,669.88 195.85,669.32 197.22,668.82 198.59,668.38 199.96,668.01 201.32,667.7 202.69,667.46 204.06,667.27 205.43,667.15 206.8,667.1 208.17,667.11 209.54,667.18 210.91,667.32 212.27,667.52 213.64,667.78 215.01,668.11 216.38,668.5 217.75,668.95 219.12,669.46 220.49,670.04 221.86,670.68 223.22,671.38 224.59,672.14 225.96,672.96 227.33,673.84 228.7,674.78 230.07,675.78 231.44,676.84 232.81,677.95 234.18,679.12 235.54,680.35 236.91,681.63 238.28,682.96 239.65,684.35 241.02,685.79 242.39,687.28 243.76,688.82 245.12,690.41 246.49,692.04 247.86,693.73 249.23,695.46 250.6,697.23 251.97,699.04 253.34,700.9 254.71,702.8 256.07,704.74 257.44,706.71 258.81,708.73 260.18,710.77 261.55,712.86 262.92,714.97 264.29,717.11 265.66,719.29 267.02,721.49 268.39,723.72 269.76,725.97 271.13,728.25 272.5,730.55 273.87,732.87 275.24,735.2 276.61,737.56 277.98,739.93 279.34,742.31 280.71,744.71 282.08,747.11 283.45,749.53 284.82,751.95 286.19,754.38 287.56,756.81 288.93,759.24 290.29,761.68 291.66,764.11 293.03,766.54 294.4,768.97 295.77,771.39 297.14,773.8 298.51,776.2 299.88,778.59 301.24,780.97 302.61,783.34 303.98,785.68 305.35,788.01 306.72,790.33 308.09,792.62 309.46,794.88 310.82,797.13 312.19,799.35 313.56,801.54 314.93,803.7 316.3,805.84 317.67,807.94 319.04,810.01 320.41,812.04 321.78,814.04 323.14,816 324.51,817.92 325.88,819.81 327.25,821.65 328.62,823.45 329.99,825.2 331.36,826.92 332.73,828.58 334.09,830.2 335.46,831.77 336.83,833.29 338.2,834.76 339.57,836.18 340.94,837.55 342.31,838.86 343.68,840.12 345.04,841.33 346.41,842.48 347.78,843.57 349.15,844.6 350.52,845.58 351.89,846.5 353.26,847.36 354.62,848.16 355.99,848.89 357.36,849.57 358.73,850.19 360.1,850.74 361.47,851.23 362.84,851.66 364.21,852.03 365.57,852.33 366.94,852.57 368.31,852.74 369.68,852.85 371.05,852.9 372.42,852.89 373.79,852.81 375.16,852.66 376.53,852.46 377.89,852.19 379.26,851.85 380.63,851.46 382,851 383.37,850.48 384.74,849.89 386.11,849.25 387.48,848.54 388.84,847.77 390.21,846.94 391.58,846.06 392.95,845.11 394.32,844.1 395.69,843.04 397.06,841.92 398.43,840.75 399.79,839.51 401.16,838.23 402.53,836.89 403.9,835.49 405.27,834.04 406.64,832.54 408.01,830.99 409.38,829.39 410.74,827.74 412.11,826.04 413.48,824.29 414.85,822.5 416.22,820.67 417.59,818.79 418.96,816.86 420.33,814.9 421.69,812.9 423.06,810.86 424.43,808.78 425.8,806.67 427.17,804.52 428.54,802.34 429.91,800.13 431.28,797.89 432.64,795.62 434.01,793.33 435.38,791.01 436.75,788.67 438.12,786.3 439.49,783.92 440.86,781.52 442.23,779.1 443.59,776.67 444.96,774.22 446.33,771.76 447.7,769.3 449.07,766.82 450.44,764.34 451.81,761.86 453.18,759.36 454.54,756.84 455.91,754.31 457.28,751.76 458.65,749.21 460.02,746.65 461.39,744.1 462.76,741.55 464.12,739.01 465.49,736.48 466.86,733.97 468.23,731.48 469.6,729.01" fill="none" stroke="#C8320A" stroke-width="1.75" stroke-linecap="butt" stroke-linejoin="round"/><polyline points="141.1,632.61 142.47,631.13 143.84,629.73 145.21,628.42 146.57,627.19 147.94,626.06 149.31,625.01 150.68,624.06 152.05,623.2 153.42,622.42 154.79,621.75 156.16,621.16 157.53,620.67 158.89,620.27 160.26,619.97 161.63,619.76 163,619.65 164.37,619.63 165.74,619.71 167.11,619.88 168.47,620.15 169.84,620.51 171.21,620.97 172.58,621.53 173.95,622.17 175.32,622.92 176.69,623.76 178.06,624.69 179.43,625.71 180.79,626.83 182.16,628.04 183.53,629.34 184.9,630.73 186.27,632.2 187.64,633.77 189.01,635.43 190.38,637.17 191.74,639 193.11,640.91 194.48,642.9 195.85,644.98 197.22,647.14 198.59,649.37 199.96,651.69 201.32,654.07 202.69,656.54 204.06,659.07 205.43,661.68 206.8,664.36 208.17,667.1 209.54,669.91 210.91,672.78 212.27,675.72 213.64,678.71 215.01,681.76 216.38,684.86 217.75,688.02 219.12,691.23 220.49,694.48 221.86,697.78 223.22,701.13 224.59,704.52 225.96,707.94 227.33,711.4 228.7,714.9 230.07,718.42 231.44,721.98 232.81,725.56 234.18,729.17 235.54,732.79 236.91,736.44 238.28,740.1 239.65,743.77 241.02,747.46 242.39,751.15 243.76,754.85 245.12,758.56 246.49,762.26 247.86,765.96 249.23,769.65 250.6,773.34 251.97,777.02 253.34,780.68 254.71,784.34 256.07,787.97 257.44,791.58 258.81,795.17 260.18,798.73 261.55,802.27 262.92,805.77 264.29,809.25 265.66,812.68 267.02,816.08 268.39,819.44 269.76,822.76 271.13,826.04 272.5,829.26 273.87,832.44 275.24,835.57 276.61,838.64 277.98,841.66 279.34,844.62 280.71,847.53 282.08,850.37 283.45,853.14 284.82,855.86 286.19,858.5 287.56,861.08 288.93,863.59 290.29,866.02 291.66,868.38 293.03,870.67 294.4,872.88 295.77,875.01 297.14,877.06 298.51,879.04 299.88,880.93 301.24,882.73 302.61,884.45 303.98,886.09 305.35,887.63 306.72,889.09 308.09,890.47 309.46,891.75 310.82,892.94 312.19,894.03 313.56,895.04 314.93,895.95 316.3,896.77 317.67,897.5 319.04,898.13 320.41,898.66 321.78,899.1 323.14,899.45 324.51,899.69 325.88,899.85 327.25,899.9 328.62,899.86 329.99,899.72 331.36,899.49 332.73,899.16 334.09,898.73 335.46,898.21 336.83,897.59 338.2,896.88 339.57,896.08 340.94,895.18 342.31,894.18 343.68,893.1 345.04,891.92 346.41,890.65 347.78,889.29 349.15,887.85 350.52,886.31 351.89,884.69 353.26,882.98 354.62,881.18 355.99,879.31 357.36,877.35 358.73,875.3 360.1,873.18 361.47,870.98 362.84,868.71 364.21,866.36 365.57,863.93 366.94,861.44 368.31,858.87 369.68,856.24 371.05,853.53 372.42,850.77 373.79,847.93 375.16,845.04 376.53,842.09 377.89,839.08 379.26,836.02 380.63,832.9 382,829.73 383.37,826.51 384.74,823.25 386.11,819.94 387.48,816.59 388.84,813.2 390.21,809.78 391.58,806.32 392.95,802.83 394.32,799.31 395.69,795.76 397.06,792.19 398.43,788.6 399.79,784.99 401.16,781.36 402.53,777.71 403.9,774.06 405.27,770.39 406.64,766.71 408.01,763.04 409.38,759.35 410.74,755.67 412.11,751.99 413.48,748.32 414.85,744.65 416.22,741 417.59,737.36 418.96,733.73 420.33,730.12 421.69,726.53 423.06,722.96 424.43,719.42 425.8,715.91 427.17,712.43 428.54,708.98 429.91,705.56 431.28,702.18 432.64,698.85 434.01,695.55 435.38,692.3 436.75,689.09 438.12,685.94 439.49,682.83 440.86,679.78 442.23,676.78 443.59,673.84 444.96,670.96 446.33,668.14 447.7,665.39 449.07,662.7 450.44,660.08 451.81,657.52 453.18,655.03 454.54,652.59 455.91,650.21 457.28,647.89 458.65,645.63 460.02,643.44 461.39,641.33 462.76,639.29 464.12,637.34 465.49,635.46 466.86,633.68 468.23,631.99 469.6,630.39" fill="none" stroke="#1485FF" stroke-width="1.75" stroke-linecap="butt" stroke-linejoin="round"/><path d="M109.3 547.5H535.3M109.3 972.7H535.3M109.8 547.5V972.7M534.8 547.5V972.7M109.8 590h9.2M109.8 632.5h9.2M109.8 675h9.2M109.8 717.5h9.2M109.8 760h9.2M109.8 802.5h9.2M109.8 845h9.2M109.8 887.5h9.2M109.8 930h9.2M141.5 972.7v-8.8M220.25 972.7v-8.8M299 972.7v-8.8M377.75 972.7v-8.8M456.5 972.7v-8.8" stroke="#303030" stroke-width="1.05" fill="none"/><text class="pl" x="111.6" y="530.3">D</text><text x="235.8" y="586.7">Depth = 1.5 m</text><text x="420.1" y="586.7">X = 5 km</text><text x="96.2" y="557.9" text-anchor="end" style="font-size:24.6px">0.25</text><text x="96.2" y="599.92" text-anchor="end" style="font-size:24.6px">0.2</text><text x="96.2" y="641.94" text-anchor="end" style="font-size:24.6px">0.15</text><text x="96.2" y="683.96" text-anchor="end" style="font-size:24.6px">0.1</text><text x="96.2" y="725.98" text-anchor="end" style="font-size:24.6px">0.05</text><text x="96.2" y="768" text-anchor="end" style="font-size:24.6px">0</text><text x="96.2" y="810.02" text-anchor="end" style="font-size:24.6px">-0.05</text><text x="96.2" y="852.04" text-anchor="end" style="font-size:24.6px">-0.1</text><text x="96.2" y="894.06" text-anchor="end" style="font-size:24.6px">-0.15</text><text x="96.2" y="936.08" text-anchor="end" style="font-size:24.6px">-0.2</text><text x="96.2" y="978.1" text-anchor="end" style="font-size:24.6px">-0.25</text><text transform="translate(20.5 750) rotate(-90)" text-anchor="middle">Water Level (m)</text><text x="113.9" y="1007.3" style="font-size:24.7px">9/21/21</text><text x="266.8" y="1007.3" style="font-size:24.7px">9/23/21</text><text x="426.5" y="1007.3" style="font-size:24.7px">9/25/21</text><text x="276.4" y="1049.2">Time</text></g>
<g><polyline points="581.1,658.8 582.47,659.42 583.84,660.1 585.21,660.84 586.57,661.66 587.94,662.53 589.31,663.48 590.68,664.48 592.05,665.55 593.42,666.68 594.79,667.88 596.16,669.13 597.52,670.45 598.89,671.83 600.26,673.26 601.63,674.75 603,676.3 604.37,677.91 605.74,679.57 607.11,681.29 608.47,683.06 609.84,684.88 611.21,686.75 612.58,688.67 613.95,690.64 615.32,692.66 616.69,694.72 618.06,696.83 619.42,698.98 620.79,701.17 622.16,703.4 623.53,705.68 624.9,707.99 626.27,710.33 627.64,712.72 629.01,715.13 630.38,717.58 631.74,720.05 633.11,722.56 634.48,725.09 635.85,727.65 637.22,730.23 638.59,732.83 639.96,735.45 641.32,738.09 642.69,740.75 644.06,743.42 645.43,746.11 646.8,748.81 648.17,751.51 649.54,754.22 650.91,756.94 652.27,759.66 653.64,762.39 655.01,765.11 656.38,767.83 657.75,770.55 659.12,773.26 660.49,775.96 661.86,778.65 663.22,781.33 664.59,784 665.96,786.65 667.33,789.28 668.7,791.9 670.07,794.49 671.44,797.06 672.81,799.6 674.17,802.12 675.54,804.61 676.91,807.06 678.28,809.49 679.65,811.88 681.02,814.24 682.39,816.55 683.76,818.83 685.12,821.07 686.49,823.26 687.86,825.42 689.23,827.52 690.6,829.58 691.97,831.59 693.34,833.55 694.71,835.46 696.07,837.31 697.44,839.11 698.81,840.86 700.18,842.55 701.55,844.18 702.92,845.75 704.29,847.27 705.66,848.72 707.02,850.11 708.39,851.43 709.76,852.69 711.13,853.89 712.5,855.02 713.87,856.08 715.24,857.08 716.61,858.01 717.97,858.87 719.34,859.66 720.71,860.38 722.08,861.04 723.45,861.62 724.82,862.13 726.19,862.57 727.56,862.93 728.92,863.23 730.29,863.45 731.66,863.61 733.03,863.69 734.4,863.69 735.77,863.63 737.14,863.5 738.51,863.29 739.88,863.01 741.24,862.66 742.61,862.24 743.98,861.75 745.35,861.19 746.72,860.56 748.09,859.86 749.46,859.09 750.82,858.25 752.19,857.34 753.56,856.37 754.93,855.33 756.3,854.23 757.67,853.06 759.04,851.82 760.41,850.52 761.77,849.16 763.14,847.74 764.51,846.26 765.88,844.71 767.25,843.11 768.62,841.45 769.99,839.74 771.36,837.97 772.72,836.15 774.09,834.27 775.46,832.34 776.83,830.37 778.2,828.34 779.57,826.26 780.94,824.15 782.31,821.98 783.67,819.77 785.04,817.53 786.41,815.24 787.78,812.91 789.15,810.55 790.52,808.15 791.89,805.71 793.26,803.25 794.62,800.76 795.99,798.23 797.36,795.68 798.73,793.11 800.1,790.51 801.47,787.89 802.84,785.25 804.21,782.59 805.57,779.92 806.94,777.23 808.31,774.53 809.68,771.82 811.05,769.1 812.42,766.37 813.79,763.64 815.16,760.9 816.52,758.17 817.89,755.43 819.26,752.69 820.63,749.96 822,747.23 823.37,744.51 824.74,741.81 826.11,739.11 827.47,736.43 828.84,733.76 830.21,731.11 831.58,728.48 832.95,725.87 834.32,723.29 835.69,720.73 837.06,718.2 838.42,715.69 839.79,713.22 841.16,710.78 842.53,708.37 843.9,706 845.27,703.67 846.64,701.38 848.01,699.12 849.38,696.91 850.74,694.75 852.11,692.63 853.48,690.56 854.85,688.54 856.22,686.56 857.59,684.64 858.96,682.78 860.33,680.96 861.69,679.21 863.06,677.51 864.43,675.87 865.8,674.29 867.17,672.76 868.54,671.31 869.91,669.91 871.27,668.58 872.64,667.31 874.01,666.11 875.38,664.97 876.75,663.9 878.12,662.9 879.49,661.97 880.86,661.1 882.22,660.31 883.59,659.59 884.96,658.94 886.33,658.36 887.7,657.85 889.07,657.41 890.44,657.04 891.81,656.75 893.17,656.53 894.54,656.38 895.91,656.31 897.28,656.31 898.65,656.38 900.02,656.52 901.39,656.74 902.76,657.03 904.12,657.39 905.49,657.82 906.86,658.32 908.23,658.9 909.6,659.55" fill="none" stroke="#FC962C" stroke-width="1.75" stroke-linecap="butt" stroke-linejoin="round"/><polyline points="581.1,729.71 582.47,726.19 583.84,722.69 585.21,719.22 586.57,715.77 587.94,712.36 589.31,708.98 590.68,705.63 592.05,702.33 593.42,699.06 594.79,695.83 596.16,692.65 597.52,689.51 598.89,686.42 600.26,683.39 601.63,680.4 603,677.47 604.37,674.6 605.74,671.78 607.11,669.03 608.47,666.34 609.84,663.71 611.21,661.15 612.58,658.65 613.95,656.23 615.32,653.88 616.69,651.6 618.06,649.39 619.42,647.26 620.79,645.21 622.16,643.24 623.53,641.34 624.9,639.53 626.27,637.8 627.64,636.16 629.01,634.6 630.38,633.12 631.74,631.74 633.11,630.44 634.48,629.23 635.85,628.11 637.22,627.08 638.59,626.14 639.96,625.29 641.32,624.54 642.69,623.88 644.06,623.31 645.43,622.84 646.8,622.46 648.17,622.17 649.54,621.98 650.91,621.89 652.27,621.89 653.64,621.98 655.01,622.17 656.38,622.45 657.75,622.83 659.12,623.3 660.49,623.87 661.86,624.53 663.22,625.28 664.59,626.13 665.96,627.06 667.33,628.09 668.7,629.21 670.07,630.42 671.44,631.72 672.81,633.1 674.17,634.58 675.54,636.13 676.91,637.78 678.28,639.51 679.65,641.32 681.02,643.21 682.39,645.18 683.76,647.23 685.12,649.36 686.49,651.56 687.86,653.84 689.23,656.2 690.6,658.62 691.97,661.11 693.34,663.67 694.71,666.3 696.07,668.99 697.44,671.74 698.81,674.56 700.18,677.43 701.55,680.36 702.92,683.34 704.29,686.38 705.66,689.47 707.02,692.6 708.39,695.79 709.76,699.01 711.13,702.28 712.5,705.59 713.87,708.93 715.24,712.31 716.61,715.73 717.97,719.17 719.34,722.64 720.71,726.14 722.08,729.66 723.45,733.2 724.82,736.76 726.19,740.33 727.56,743.92 728.92,747.52 730.29,751.13 731.66,754.75 733.03,758.36 734.4,761.98 735.77,765.6 737.14,769.22 738.51,772.82 739.88,776.42 741.24,780.01 742.61,783.58 743.98,787.14 745.35,790.68 746.72,794.2 748.09,797.69 749.46,801.16 750.82,804.6 752.19,808.01 753.56,811.39 754.93,814.73 756.3,818.03 757.67,821.3 759.04,824.52 760.41,827.7 761.77,830.83 763.14,833.91 764.51,836.94 765.88,839.92 767.25,842.85 768.62,845.71 769.99,848.52 771.36,851.27 772.72,853.96 774.09,856.58 775.46,859.13 776.83,861.62 778.2,864.03 779.57,866.38 780.94,868.65 782.31,870.85 783.67,872.97 785.04,875.01 786.41,876.98 787.78,878.86 789.15,880.66 790.52,882.38 791.89,884.02 793.26,885.57 794.62,887.03 795.99,888.41 797.36,889.7 798.73,890.9 800.1,892.01 801.47,893.03 802.84,893.96 804.21,894.79 805.57,895.54 806.94,896.19 808.31,896.75 809.68,897.21 811.05,897.58 812.42,897.85 813.79,898.03 815.16,898.12 816.52,898.11 817.89,898 819.26,897.8 820.63,897.51 822,897.12 823.37,896.64 824.74,896.06 826.11,895.39 827.47,894.63 828.84,893.78 830.21,892.83 831.58,891.79 832.95,890.66 834.32,889.44 835.69,888.14 837.06,886.74 838.42,885.26 839.79,883.69 841.16,882.04 842.53,880.3 843.9,878.47 845.27,876.57 846.64,874.58 848.01,872.51 849.38,870.37 850.74,868.14 852.11,865.84 853.48,863.46 854.85,861.01 856.22,858.49 857.59,855.9 858.96,853.24 860.33,850.51 861.69,847.72 863.06,844.86 864.43,841.94 865.8,838.97 867.17,835.94 868.54,832.85 869.91,829.71 871.27,826.51 872.64,823.27 874.01,819.99 875.38,816.65 876.75,813.28 878.12,809.87 879.49,806.42 880.86,802.93 882.22,799.42 883.59,795.87 884.96,792.29 886.33,788.7 887.7,785.08 889.07,781.43 890.44,777.78 891.81,774.11 893.17,770.41 894.54,766.67 895.91,762.9 897.28,759.11 898.65,755.29 900.02,751.46 901.39,747.63 902.76,743.79 904.12,739.96 905.49,736.13 906.86,732.33 908.23,728.54 909.6,724.79" fill="none" stroke="#C8320A" stroke-width="1.75" stroke-linecap="butt" stroke-linejoin="round"/><polyline points="581.1,628.57 582.47,625.64 583.84,622.8 585.21,620.04 586.57,617.39 587.94,614.82 589.31,612.36 590.68,609.99 592.05,607.73 593.42,605.56 594.79,603.5 596.16,601.55 597.52,599.7 598.89,597.96 600.26,596.34 601.63,594.82 603,593.41 604.37,592.12 605.74,590.94 607.11,589.88 608.47,588.93 609.84,588.1 611.21,587.39 612.58,586.79 613.95,586.31 615.32,585.95 616.69,585.71 618.06,585.59 619.42,585.6 620.79,585.72 622.16,585.95 623.53,586.31 624.9,586.79 626.27,587.39 627.64,588.11 629.01,588.95 630.38,589.9 631.74,590.97 633.11,592.16 634.48,593.47 635.85,594.89 637.22,596.43 638.59,598.08 639.96,599.84 641.32,601.72 642.69,603.7 644.06,605.79 645.43,607.99 646.8,610.3 648.17,612.71 649.54,615.23 650.91,617.84 652.27,620.55 653.64,623.37 655.01,626.27 656.38,629.27 657.75,632.36 659.12,635.54 660.49,638.8 661.86,642.15 663.22,645.58 664.59,649.09 665.96,652.68 667.33,656.34 668.7,660.08 670.07,663.88 671.44,667.75 672.81,671.68 674.17,675.67 675.54,679.72 676.91,683.83 678.28,687.99 679.65,692.2 681.02,696.45 682.39,700.75 683.76,705.09 685.12,709.46 686.49,713.87 687.86,718.31 689.23,722.78 690.6,727.27 691.97,731.79 693.34,736.32 694.71,740.87 696.07,745.43 697.44,750 698.81,754.58 700.18,759.15 701.55,763.73 702.92,768.31 704.29,772.87 705.66,777.43 707.02,781.97 708.39,786.5 709.76,791.01 711.13,795.49 712.5,799.95 713.87,804.38 715.24,808.78 716.61,813.14 717.97,817.47 719.34,821.76 720.71,826 722.08,830.19 723.45,834.34 724.82,838.43 726.19,842.47 727.56,846.45 728.92,850.37 730.29,854.23 731.66,858.02 733.03,861.75 734.4,865.4 735.77,868.98 737.14,872.49 738.51,875.92 739.88,879.26 741.24,882.53 742.61,885.71 743.98,888.8 745.35,891.81 746.72,894.72 748.09,897.54 749.46,900.27 750.82,902.9 752.19,905.43 753.56,907.86 754.93,910.19 756.3,912.42 757.67,914.54 759.04,916.55 760.41,918.46 761.77,920.25 763.14,921.94 764.51,923.51 765.88,924.98 767.25,926.32 768.62,927.56 769.99,928.68 771.36,929.68 772.72,930.57 774.09,931.33 775.46,931.98 776.83,932.52 778.2,932.93 779.57,933.22 780.94,933.4 782.31,933.45 783.67,933.39 785.04,933.2 786.41,932.9 787.78,932.48 789.15,931.94 790.52,931.28 791.89,930.5 793.26,929.6 794.62,928.59 795.99,927.46 797.36,926.22 798.73,924.86 800.1,923.38 801.47,921.8 802.84,920.1 804.21,918.29 805.57,916.38 806.94,914.35 808.31,912.22 809.68,909.98 811.05,907.64 812.42,905.2 813.79,902.66 815.16,900.01 816.52,897.27 817.89,894.44 819.26,891.51 820.63,888.48 822,885.38 823.37,882.18 824.74,878.9 826.11,875.53 827.47,872.09 828.84,868.57 830.21,864.97 831.58,861.31 832.95,857.57 834.32,853.76 835.69,849.89 837.06,845.96 838.42,841.97 839.79,837.93 841.16,833.83 842.53,829.68 843.9,825.48 845.27,821.23 846.64,816.94 848.01,812.61 849.38,808.25 850.74,803.85 852.11,799.42 853.48,794.96 854.85,790.47 856.22,785.97 857.59,781.44 858.96,776.9 860.33,772.35 861.69,767.78 863.06,763.21 864.43,758.64 865.8,754.06 867.17,749.49 868.54,744.92 869.91,740.37 871.27,735.82 872.64,731.3 874.01,726.79 875.38,722.3 876.75,717.84 878.12,713.4 879.49,709 880.86,704.63 882.22,700.29 883.59,696 884.96,691.75 886.33,687.55 887.7,683.4 889.07,679.29 890.44,675.25 891.81,671.26 893.17,667.31 894.54,663.41 895.91,659.54 897.28,655.71 898.65,651.94 900.02,648.23 901.39,644.59 902.76,641.01 904.12,637.51 905.49,634.09 906.86,630.76 908.23,627.53 909.6,624.39" fill="none" stroke="#1485FF" stroke-width="1.75" stroke-linecap="butt" stroke-linejoin="round"/><path d="M549.3 547.5H975.3M549.3 972.7H975.3M549.8 547.5V972.7M974.8 547.5V972.7M549.8 590h9.2M549.8 632.5h9.2M549.8 675h9.2M549.8 717.5h9.2M549.8 760h9.2M549.8 802.5h9.2M549.8 845h9.2M549.8 887.5h9.2M549.8 930h9.2M581.5 972.7v-8.8M660.25 972.7v-8.8M739 972.7v-8.8M817.75 972.7v-8.8M896.5 972.7v-8.8" stroke="#303030" stroke-width="1.05" fill="none"/><text class="pl" x="552.3" y="530.3">E</text><text x="685.6" y="586.7">Depth = 1 m</text><text x="850.4" y="586.7">X = 5 km</text><text x="553.9" y="1007.3" style="font-size:24.7px">9/21/21</text><text x="706.8" y="1007.3" style="font-size:24.7px">9/23/21</text><text x="866.5" y="1007.3" style="font-size:24.7px">9/25/21</text><text x="716.8" y="1049.2">Time</text></g>
<g><polyline points="1021.1,659.02 1022.47,659.66 1023.84,660.37 1025.21,661.14 1026.58,661.98 1027.94,662.88 1029.31,663.84 1030.68,664.87 1032.05,665.97 1033.42,667.12 1034.79,668.34 1036.16,669.62 1037.52,670.95 1038.89,672.35 1040.26,673.81 1041.63,675.32 1043,676.89 1044.37,678.52 1045.74,680.2 1047.11,681.94 1048.47,683.72 1049.84,685.56 1051.21,687.45 1052.58,689.39 1053.95,691.38 1055.32,693.41 1056.69,695.49 1058.06,697.62 1059.42,699.78 1060.79,701.99 1062.16,704.24 1063.53,706.53 1064.9,708.85 1066.27,711.21 1067.64,713.6 1069.01,716.03 1070.38,718.49 1071.74,720.97 1073.11,723.49 1074.48,726.03 1075.85,728.59 1077.22,731.18 1078.59,733.79 1079.96,736.42 1081.33,739.06 1082.69,741.73 1084.06,744.4 1085.43,747.09 1086.8,749.79 1088.17,752.5 1089.54,755.22 1090.91,757.93 1092.27,760.66 1093.64,763.38 1095.01,766.1 1096.38,768.82 1097.75,771.54 1099.12,774.24 1100.49,776.94 1101.86,779.63 1103.22,782.3 1104.59,784.97 1105.96,787.61 1107.33,790.24 1108.7,792.84 1110.07,795.42 1111.44,797.98 1112.81,800.52 1114.17,803.02 1115.54,805.5 1116.91,807.95 1118.28,810.36 1119.65,812.74 1121.02,815.08 1122.39,817.38 1123.76,819.65 1125.12,821.87 1126.49,824.05 1127.86,826.18 1129.23,828.27 1130.6,830.31 1131.97,832.3 1133.34,834.25 1134.71,836.14 1136.08,837.97 1137.44,839.75 1138.81,841.48 1140.18,843.15 1141.55,844.76 1142.92,846.31 1144.29,847.8 1145.66,849.23 1147.02,850.59 1148.39,851.9 1149.76,853.13 1151.13,854.31 1152.5,855.41 1153.87,856.45 1155.24,857.43 1156.61,858.33 1157.97,859.17 1159.34,859.93 1160.71,860.63 1162.08,861.25 1163.45,861.81 1164.82,862.29 1166.19,862.71 1167.56,863.05 1168.92,863.32 1170.29,863.52 1171.66,863.64 1173.03,863.7 1174.4,863.68 1175.77,863.59 1177.14,863.43 1178.51,863.2 1179.88,862.89 1181.24,862.52 1182.61,862.07 1183.98,861.56 1185.35,860.97 1186.72,860.31 1188.09,859.59 1189.46,858.79 1190.83,857.93 1192.19,857 1193.56,856 1194.93,854.94 1196.3,853.81 1197.67,852.61 1199.04,851.36 1200.41,850.03 1201.78,848.65 1203.14,847.21 1204.51,845.7 1205.88,844.14 1207.25,842.52 1208.62,840.84 1209.99,839.1 1211.36,837.31 1212.72,835.47 1214.09,833.57 1215.46,831.63 1216.83,829.63 1218.2,827.59 1219.57,825.5 1220.94,823.36 1222.31,821.18 1223.67,818.96 1225.04,816.7 1226.41,814.39 1227.78,812.05 1229.15,809.68 1230.52,807.27 1231.89,804.82 1233.26,802.35 1234.62,799.84 1235.99,797.31 1237.36,794.75 1238.73,792.17 1240.1,789.56 1241.47,786.93 1242.84,784.29 1244.21,781.62 1245.58,778.95 1246.94,776.25 1248.31,773.55 1249.68,770.84 1251.05,768.11 1252.42,765.38 1253.79,762.65 1255.16,759.91 1256.53,757.17 1257.89,754.44 1259.26,751.7 1260.63,748.97 1262,746.25 1263.37,743.53 1264.74,740.83 1266.11,738.14 1267.47,735.46 1268.84,732.8 1270.21,730.16 1271.58,727.54 1272.95,724.94 1274.32,722.36 1275.69,719.81 1277.06,717.29 1278.42,714.8 1279.79,712.33 1281.16,709.91 1282.53,707.51 1283.9,705.16 1285.27,702.84 1286.64,700.56 1288.01,698.32 1289.38,696.13 1290.74,693.98 1292.11,691.88 1293.48,689.83 1294.85,687.82 1296.22,685.87 1297.59,683.97 1298.96,682.12 1300.33,680.33 1301.69,678.59 1303.06,676.91 1304.43,675.29 1305.8,673.73 1307.17,672.23 1308.54,670.8 1309.91,669.42 1311.28,668.11 1312.64,666.87 1314.01,665.69 1315.38,664.58 1316.75,663.53 1318.12,662.56 1319.49,661.65 1320.86,660.81 1322.22,660.04 1323.59,659.35 1324.96,658.72 1326.33,658.16 1327.7,657.68 1329.07,657.27 1330.44,656.93 1331.81,656.66 1333.17,656.47 1334.54,656.35 1335.91,656.3 1337.28,656.33 1338.65,656.42 1340.02,656.59 1341.39,656.83 1342.76,657.15 1344.12,657.54 1345.49,657.99 1346.86,658.52 1348.23,659.12 1349.6,659.8" fill="none" stroke="#FC962C" stroke-width="1.75" stroke-linecap="butt" stroke-linejoin="round"/><polyline points="1021.1,718.6 1022.47,714.15 1023.84,709.73 1025.21,705.35 1026.58,701 1027.94,696.69 1029.31,692.43 1030.68,688.21 1032.05,684.05 1033.42,679.93 1034.79,675.87 1036.16,671.87 1037.52,667.93 1038.89,664.05 1040.26,660.24 1041.63,656.49 1043,652.82 1044.37,649.22 1045.74,645.7 1047.11,642.25 1048.47,638.89 1049.84,635.61 1051.21,632.41 1052.58,629.3 1053.95,626.28 1055.32,623.36 1056.69,620.52 1058.06,617.79 1059.42,615.15 1060.79,612.61 1062.16,610.17 1063.53,607.83 1064.9,605.6 1066.27,603.48 1067.64,601.46 1069.01,599.55 1070.38,597.75 1071.74,596.07 1073.11,594.49 1074.48,593.03 1075.85,591.68 1077.22,590.45 1078.59,589.34 1079.96,588.34 1081.33,587.46 1082.69,586.7 1084.06,586.06 1085.43,585.54 1086.8,585.13 1088.17,584.85 1089.54,584.69 1090.91,584.65 1092.27,584.72 1093.64,584.92 1095.01,585.24 1096.38,585.68 1097.75,586.24 1099.12,586.92 1100.49,587.71 1101.86,588.63 1103.22,589.66 1104.59,590.81 1105.96,592.08 1107.33,593.46 1108.7,594.95 1110.07,596.56 1111.44,598.28 1112.81,600.12 1114.17,602.06 1115.54,604.11 1116.91,606.26 1118.28,608.53 1119.65,610.89 1121.02,613.36 1122.39,615.93 1123.76,618.6 1125.12,621.37 1126.49,624.23 1127.86,627.18 1129.23,630.23 1130.6,633.36 1131.97,636.59 1133.34,639.89 1134.71,643.28 1136.08,646.75 1137.44,650.3 1138.81,653.92 1140.18,657.61 1141.55,661.38 1142.92,665.21 1144.29,669.11 1145.66,673.07 1147.02,677.09 1148.39,681.17 1149.76,685.3 1151.13,689.48 1152.5,693.71 1153.87,697.99 1155.24,702.3 1156.61,706.66 1157.97,711.06 1159.34,715.49 1160.71,719.95 1162.08,724.43 1163.45,728.94 1164.82,733.48 1166.19,738.03 1167.56,742.59 1168.92,747.17 1170.29,751.76 1171.66,756.35 1173.03,760.94 1174.4,765.54 1175.77,770.13 1177.14,774.71 1178.51,779.29 1179.88,783.84 1181.24,788.39 1182.61,792.91 1183.98,797.41 1185.35,801.89 1186.72,806.34 1188.09,810.75 1189.46,815.13 1190.83,819.48 1192.19,823.78 1193.56,828.03 1194.93,832.25 1196.3,836.41 1197.67,840.52 1199.04,844.57 1200.41,848.57 1201.78,852.5 1203.14,856.37 1204.51,860.18 1205.88,863.91 1207.25,867.58 1208.62,871.17 1209.99,874.69 1211.36,878.12 1212.72,881.48 1214.09,884.75 1215.46,887.94 1216.83,891.03 1218.2,894.04 1219.57,896.96 1220.94,899.78 1222.31,902.51 1223.67,905.13 1225.04,907.66 1226.41,910.09 1227.78,912.41 1229.15,914.63 1230.52,916.75 1231.89,918.75 1233.26,920.65 1234.62,922.44 1235.99,924.11 1237.36,925.67 1238.73,927.12 1240.1,928.46 1241.47,929.67 1242.84,930.78 1244.21,931.76 1245.58,932.63 1246.94,933.38 1248.31,934 1249.68,934.51 1251.05,934.9 1252.42,935.17 1253.79,935.32 1255.16,935.35 1256.53,935.26 1257.89,935.05 1259.26,934.72 1260.63,934.26 1262,933.69 1263.37,933 1264.74,932.19 1266.11,931.26 1267.47,930.22 1268.84,929.06 1270.21,927.78 1271.58,926.38 1272.95,924.88 1274.32,923.25 1275.69,921.52 1277.06,919.68 1278.42,917.72 1279.79,915.66 1281.16,913.49 1282.53,911.21 1283.9,908.83 1285.27,906.35 1286.64,903.76 1288.01,901.07 1289.38,898.28 1290.74,895.39 1292.11,892.41 1293.48,889.33 1294.85,886.16 1296.22,882.9 1297.59,879.55 1298.96,876.12 1300.33,872.61 1301.69,869.01 1303.06,865.34 1304.43,861.58 1305.8,857.76 1307.17,853.86 1308.54,849.9 1309.91,845.87 1311.28,841.78 1312.64,837.63 1314.01,833.42 1315.38,829.16 1316.75,824.84 1318.12,820.48 1319.49,816.07 1320.86,811.62 1322.22,807.14 1323.59,802.61 1324.96,798.06 1326.33,793.47 1327.7,788.86 1329.07,784.22 1330.44,779.57 1331.81,774.9 1333.17,770.2 1334.54,765.45 1335.91,760.66 1337.28,755.85 1338.65,751.01 1340.02,746.15 1341.39,741.29 1342.76,736.42 1344.12,731.57 1345.49,726.73 1346.86,721.91 1348.23,717.13 1349.6,712.39" fill="none" stroke="#C8320A" stroke-width="1.75" stroke-linecap="butt" stroke-linejoin="round"/><polyline points="1021.1,616.71 1022.47,612.81 1023.84,609.01 1025.21,605.3 1026.58,601.71 1027.94,598.22 1029.31,594.84 1030.68,591.57 1032.05,588.41 1033.42,585.37 1034.79,582.45 1036.16,579.64 1037.52,576.96 1038.89,574.4 1040.26,571.97 1041.63,569.67 1043,567.49 1044.37,565.45 1045.74,563.54 1047.11,561.76 1048.47,560.12 1049.84,558.62 1051.21,557.25 1052.58,556.02 1053.95,554.93 1055.32,553.98 1056.69,553.17 1058.06,552.51 1059.42,551.98 1060.79,551.6 1062.16,551.36 1063.53,551.27 1064.9,551.32 1066.27,551.51 1067.64,551.85 1069.01,552.33 1070.38,552.96 1071.74,553.72 1073.11,554.64 1074.48,555.69 1075.85,556.88 1077.22,558.22 1078.59,559.69 1079.96,561.31 1081.33,563.06 1082.69,564.95 1084.06,566.97 1085.43,569.13 1086.8,571.42 1088.17,573.84 1089.54,576.39 1090.91,579.07 1092.27,581.88 1093.64,584.8 1095.01,587.85 1096.38,591.02 1097.75,594.31 1099.12,597.71 1100.49,601.22 1101.86,604.85 1103.22,608.58 1104.59,612.41 1105.96,616.35 1107.33,620.39 1108.7,624.52 1110.07,628.75 1111.44,633.07 1112.81,637.47 1114.17,641.96 1115.54,646.53 1116.91,651.18 1118.28,655.9 1119.65,660.7 1121.02,665.56 1122.39,670.49 1123.76,675.47 1125.12,680.52 1126.49,685.62 1127.86,690.77 1129.23,695.96 1130.6,701.2 1131.97,706.48 1133.34,711.8 1134.71,717.15 1136.08,722.52 1137.44,727.92 1138.81,733.35 1140.18,738.78 1141.55,744.24 1142.92,749.7 1144.29,755.17 1145.66,760.63 1147.02,766.1 1148.39,771.56 1149.76,777.02 1151.13,782.46 1152.5,787.88 1153.87,793.28 1155.24,798.66 1156.61,804.01 1157.97,809.33 1159.34,814.62 1160.71,819.86 1162.08,825.06 1163.45,830.22 1164.82,835.33 1166.19,840.38 1167.56,845.38 1168.92,850.32 1170.29,855.2 1171.66,860.01 1173.03,864.75 1174.4,869.42 1175.77,874.01 1177.14,878.53 1178.51,882.96 1179.88,887.31 1181.24,891.56 1182.61,895.73 1183.98,899.81 1185.35,903.79 1186.72,907.66 1188.09,911.44 1189.46,915.11 1190.83,918.68 1192.19,922.14 1193.56,925.48 1194.93,928.71 1196.3,931.83 1197.67,934.82 1199.04,937.7 1200.41,940.45 1201.78,943.08 1203.14,945.58 1204.51,947.96 1205.88,950.21 1207.25,952.32 1208.62,954.3 1209.99,956.15 1211.36,957.87 1212.72,959.44 1214.09,960.88 1215.46,962.19 1216.83,963.35 1218.2,964.37 1219.57,965.25 1220.94,965.99 1222.31,966.59 1223.67,967.05 1225.04,967.36 1226.41,967.54 1227.78,967.56 1229.15,967.45 1230.52,967.19 1231.89,966.79 1233.26,966.25 1234.62,965.56 1235.99,964.74 1237.36,963.77 1238.73,962.66 1240.1,961.41 1241.47,960.03 1242.84,958.5 1244.21,956.84 1245.58,955.04 1246.94,953.11 1248.31,951.05 1249.68,948.85 1251.05,946.52 1252.42,944.07 1253.79,941.48 1255.16,938.77 1256.53,935.94 1257.89,932.98 1259.26,929.91 1260.63,926.71 1262,923.4 1263.37,919.98 1264.74,916.45 1266.11,912.81 1267.47,909.06 1268.84,905.22 1270.21,901.27 1271.58,897.22 1272.95,893.08 1274.32,888.85 1275.69,884.53 1277.06,880.12 1278.42,875.64 1279.79,871.07 1281.16,866.43 1282.53,861.71 1283.9,856.92 1285.27,852.06 1286.64,847.14 1288.01,842.16 1289.38,837.12 1290.74,832.02 1292.11,826.88 1293.48,821.68 1294.85,816.44 1296.22,811.17 1297.59,805.85 1298.96,800.5 1300.33,795.12 1301.69,789.72 1303.06,784.29 1304.43,778.84 1305.8,773.38 1307.17,767.91 1308.54,762.43 1309.91,756.95 1311.28,751.46 1312.64,745.98 1314.01,740.51 1315.38,735.05 1316.75,729.61 1318.12,724.18 1319.49,718.78 1320.86,713.41 1322.22,708.06 1323.59,702.75 1324.96,697.48 1326.33,692.25 1327.7,687.06 1329.07,681.92 1330.44,676.84 1331.81,671.81 1333.17,666.82 1334.54,661.86 1335.91,656.94 1337.28,652.05 1338.65,647.22 1340.02,642.44 1341.39,637.73 1342.76,633.09 1344.12,628.53 1345.49,624.06 1346.86,619.68 1348.23,615.41 1349.6,611.25" fill="none" stroke="#1485FF" stroke-width="1.75" stroke-linecap="butt" stroke-linejoin="round"/><path d="M989.3 547.5H1415.3M989.3 972.7H1415.3M989.8 547.5V972.7M1414.8 547.5V972.7M989.8 590h9.2M989.8 632.5h9.2M989.8 675h9.2M989.8 717.5h9.2M989.8 760h9.2M989.8 802.5h9.2M989.8 845h9.2M989.8 887.5h9.2M989.8 930h9.2M1021.5 972.7v-8.8M1100.25 972.7v-8.8M1179 972.7v-8.8M1257.75 972.7v-8.8M1336.5 972.7v-8.8" stroke="#303030" stroke-width="1.05" fill="none"/><text class="pl" x="993.2" y="530.3">F</text><text x="1125.8" y="586.7">Depth = 1 m</text><text x="1290.7" y="586.7">X = 1 km</text><text x="997.4" y="1007.3" style="font-size:24.7px">9/21/21</text><text x="1150.3" y="1007.3" style="font-size:24.7px">9/23/21</text><text x="1309.8" y="1007.3" style="font-size:24.7px">9/25/21</text><text x="1160.5" y="1049.2">Time</text></g>
<g><path d="M1244 348.3H1304.4" stroke="#1485FF" stroke-width="2.6" stroke-linecap="round" fill="none"/><path d="M1244 383.7H1304.4" stroke="#FC962C" stroke-width="2.6" stroke-linecap="round" fill="none"/><path d="M1244 419.4H1304.4" stroke="#C8320A" stroke-width="2.6" stroke-linecap="round" fill="none"/><text x="1318.2" y="351.7" style="font-kerning:none">Total</text><text x="1322" y="387.3">Remote</text><text x="1323.2" y="426">Local</text></g>
</svg></body></html>
